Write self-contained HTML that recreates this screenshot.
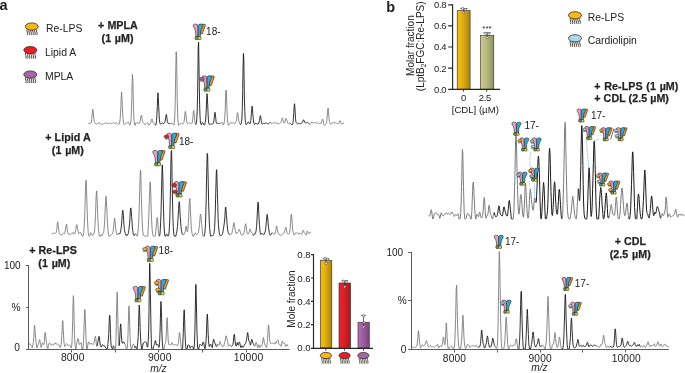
<!DOCTYPE html>
<html><head><meta charset="utf-8"><title>figure</title>
<style>
html,body{margin:0;padding:0;background:#fff;}
body{width:685px;height:373px;overflow:hidden;}
svg{display:block;font-family:"Liberation Sans",sans-serif;fill:#222;will-change:transform;opacity:0.999;}
</style></head><body>
<svg width="685" height="373" viewBox="0 0 685 373">
<rect x="0" y="0" width="685" height="373" fill="#ffffff"/>

<defs>
<linearGradient id="gy" x1="0" x2="1" y1="0" y2="0"><stop offset="0" stop-color="#f3bd12"/><stop offset="0.35" stop-color="#e9b312"/><stop offset="1" stop-color="#a88410"/></linearGradient>
<linearGradient id="gr" x1="0" x2="1" y1="0" y2="0"><stop offset="0" stop-color="#ee232b"/><stop offset="0.4" stop-color="#dd1f27"/><stop offset="1" stop-color="#a51a22"/></linearGradient>
<linearGradient id="gp" x1="0" x2="1" y1="0" y2="0"><stop offset="0" stop-color="#b06fb2"/><stop offset="0.4" stop-color="#a060a3"/><stop offset="1" stop-color="#7a457d"/></linearGradient>
<linearGradient id="gg" x1="0" x2="1" y1="0" y2="0"><stop offset="0" stop-color="#c9cc92"/><stop offset="0.4" stop-color="#b9bd82"/><stop offset="1" stop-color="#8d9160"/></linearGradient>
</defs>
<g stroke="#3a2a18" stroke-width="0.6">
<rect x="320.3" y="260.6" width="11.5" height="87.2" fill="url(#gy)"/>
<rect x="339.0" y="283.0" width="11.6" height="64.8" fill="url(#gr)"/>
<rect x="358.0" y="322.2" width="11.3" height="25.6" fill="url(#gp)"/>
<rect x="457.2" y="10.6" width="12.9" height="78.6" fill="url(#gy)"/>
<rect x="480.4" y="35.4" width="13.4" height="53.8" fill="url(#gg)"/>
</g>
<g stroke="#222" stroke-width="0.7" fill="none">
<path d="M326 258.8 V262.4 M322.6 258.8 H329.4"/>
<path d="M344.8 280.8 V285 M341.4 280.8 H348.2"/>
<path d="M363.6 315.4 V327.6 M361.2 315.4 H366"/>
<path d="M463.9 8.6 V12.8 M460.3 8.6 H467.5"/>
<path d="M487.1 32.8 V38 M483.4 32.8 H490.8"/>
</g>
<g stroke="#333" stroke-width="0.5" fill="#fff">
<circle cx="325" cy="258.3" r="1.1"/><circle cx="327.6" cy="259.1" r="1.1"/><circle cx="326" cy="263.4" r="1.1"/>
<circle cx="343.8" cy="281.1" r="1.1"/><circle cx="346.2" cy="281.8" r="1.1"/><circle cx="344.8" cy="286.8" r="1.1"/>
<circle cx="363.6" cy="315.6" r="1.1"/><circle cx="363.6" cy="326.8" r="1.1"/><circle cx="364" cy="322.5" r="1.0"/>
<circle cx="462.6" cy="8.3" r="1.1"/><circle cx="465.2" cy="9.4" r="1.1"/><circle cx="463.8" cy="12.8" r="1.1"/>
<circle cx="485.8" cy="33.4" r="1.1"/><circle cx="488.4" cy="34.2" r="1.1"/><circle cx="487" cy="37.6" r="1.1"/>
</g>

<g><path d="M88.0 123.1 L88.3 123.3 L88.7 123.3 L89.0 123.4 L89.4 123.7 L89.8 123.7 L90.1 123.3 L90.5 123.1 L90.8 123.3 L91.2 123.0 L91.5 121.3 L91.8 118.3 L92.2 114.4 L92.5 110.7 L92.9 109.2 L93.2 111.7 L93.6 116.1 L94.0 119.5 L94.3 121.3 L94.7 122.1 L95.0 122.7 L95.3 123.3 L95.7 123.8 L96.0 124.0 L96.4 124.0 L96.8 123.9 L97.1 123.8 L97.5 123.7 L97.8 123.4 L98.2 123.1 L98.5 122.9 L98.8 123.0 L99.2 123.0 L99.5 123.0 L99.9 123.0 L100.2 123.4 L100.6 123.9 L101.0 124.2 L101.3 124.3 L101.7 124.3 L102.0 124.2 L102.3 124.2 L102.7 124.2 L103.0 124.2 L103.4 124.0 L103.8 123.7 L104.1 123.4 L104.5 123.3 L104.8 123.3 L105.2 123.3 L105.5 123.3 L105.8 123.0 L106.2 122.5 L106.5 122.6 L106.9 123.2 L107.2 123.7 L107.6 123.8 L108.0 123.8 L108.3 123.6 L108.7 123.4 L109.0 123.2 L109.3 123.2 L109.7 123.3 L110.0 123.5 L110.4 123.6 L110.8 123.5 L111.1 123.4 L111.5 123.6 L111.8 123.8 L112.2 123.6 L112.5 123.3 L112.8 123.1 L113.2 122.6 L113.5 122.4 L113.9 122.8 L114.2 123.3 L114.6 123.5 L115.0 123.5 L115.3 123.4 L115.7 123.3 L116.0 123.1 L116.3 123.0 L116.7 123.0 L117.0 123.3 L117.4 123.6 L117.8 123.9 L118.1 124.1 L118.5 124.3 L118.8 124.4 L119.2 124.1 L119.5 123.2 L119.8 121.5 L120.2 118.7 L120.5 113.7 L120.9 105.8 L121.2 96.7 L121.6 91.9 L121.9 96.5 L122.3 105.5 L122.7 113.3 L123.0 118.5 L123.3 121.5 L123.7 123.4 L124.0 124.3 L124.4 124.7 L124.8 124.6 L125.1 124.3 L125.4 123.8 L125.8 123.2 L126.2 122.8 L126.5 122.7 L126.8 122.7 L127.2 122.9 L127.5 122.8 L127.9 122.4 L128.2 122.0 L128.6 122.4 L128.9 123.3 L129.3 124.3 L129.7 125.0 L130.0 125.1 L130.3 124.5 L130.7 122.8 L131.1 118.8 L131.4 111.1 L131.8 98.7 L132.1 83.8 L132.4 74.5 L132.8 79.9 L133.2 94.2 L133.5 107.6 L133.8 116.7 L134.2 121.7 L134.6 124.3 L134.9 125.3 L135.2 125.2 L135.6 123.8 L135.9 122.6 L136.3 122.6 L136.7 122.8 L137.0 122.7 L137.3 122.6 L137.7 122.7 L138.1 123.0 L138.4 123.4 L138.8 123.7 L139.1 123.8 L139.4 123.3 L139.8 122.3 L140.2 120.8 L140.5 118.9 L140.8 116.8 L141.2 115.3 L141.6 115.2 L141.9 117.3 L142.2 119.9 L142.6 121.5 L142.9 122.4 L143.3 122.9 L143.7 123.4 L144.0 123.8 L144.3 124.0 L144.7 124.0 L145.1 124.1 L145.4 124.2 L145.8 124.3 L146.1 124.3 L146.4 124.0 L146.8 123.4 L147.2 122.8 L147.5 122.5 L147.8 122.8 L148.2 123.5 L148.6 124.4 L148.9 125.2 L149.2 125.2 L149.6 124.6 L149.9 124.1 L150.3 123.7 L150.7 123.0 L151.0 121.9 L151.3 120.5 L151.7 119.2 L152.1 119.0 L152.4 120.3 L152.8 121.9 L153.1 122.6 L153.4 122.9 L153.8 123.1 L154.1 123.2 L154.5 123.5 L154.8 124.1" fill="none" stroke="#7c7c7c" stroke-width="0.9" stroke-linejoin="round"/>
<path d="M154.8 124.1 L155.2 124.8 L155.6 125.2 L155.9 124.9 L156.2 123.4 L156.6 120.3 L156.9 114.7 L157.3 106.4 L157.6 97.3 L158.0 92.8 L158.3 97.6 L158.7 106.7 L159.1 114.7 L159.4 119.9 L159.8 122.5 L160.1 123.7 L160.4 124.2 L160.8 124.2 L161.1 124.0 L161.5 123.5 L161.8 123.1 L162.2 122.9 L162.6 123.0 L162.9 123.2 L163.2 123.5 L163.6 123.7 L163.9 123.5 L164.3 123.1 L164.6 122.5 L165.0 121.6 L165.3 120.0 L165.7 117.6 L166.1 115.1 L166.4 114.5 L166.8 116.7 L167.1 119.5 L167.4 121.7 L167.8 122.9 L168.1 123.4 L168.5 123.4 L168.8 123.3 L169.2 123.5 L169.6 123.7 L169.9 123.8 L170.2 123.9 L170.6 123.6 L170.9 123.3" fill="none" stroke="#1a1a1a" stroke-width="0.9" stroke-linejoin="round"/>
<path d="M170.9 123.3 L171.3 123.2 L171.6 123.2 L172.0 123.2 L172.3 123.5 L172.7 124.0 L173.1 124.3 L173.4 124.9 L173.8 125.1 L174.1 124.3 L174.4 122.0 L174.8 117.0 L175.1 106.8 L175.5 89.4 L175.8 67.5 L176.2 51.7 L176.6 56.8 L176.9 77.1 L177.2 97.8 L177.6 112.0 L177.9 119.8 L178.3 123.6 L178.6 125.3 L179.0 125.3 L179.3 125.0 L179.7 124.3 L180.1 123.7 L180.4 123.4 L180.8 123.3 L181.1 123.4 L181.4 123.5 L181.8 123.7 L182.1 123.8 L182.5 123.8 L182.8 123.8 L183.2 123.7 L183.6 123.3 L183.9 122.5 L184.2 120.8 L184.6 117.8 L184.9 114.2 L185.3 111.4 L185.6 112.1 L186.0 115.4 L186.3 118.8 L186.7 121.3 L187.1 122.8 L187.4 123.5 L187.8 123.8 L188.1 123.6 L188.4 123.2 L188.8 122.8 L189.1 122.6 L189.5 122.7 L189.8 122.9 L190.2 123.2 L190.6 123.6 L190.9 123.9 L191.2 124.0 L191.6 123.8 L191.9 123.3 L192.3 122.2 L192.6 119.9 L193.0 116.2 L193.3 112.2 L193.7 110.4 L194.1 112.7 L194.4 116.9 L194.8 120.8 L195.1 123.2 L195.4 124.2 L195.8 124.5 L196.1 124.1" fill="none" stroke="#7c7c7c" stroke-width="0.9" stroke-linejoin="round"/>
<path d="M195.8 124.5 L196.1 124.1 L196.5 122.3 L196.8 118.2 L197.2 110.0 L197.6 94.3 L197.9 71.0 L198.2 47.9 L198.6 42.2 L198.9 60.3 L199.3 85.2 L199.6 104.7 L200.0 115.6 L200.3 120.8 L200.7 123.3 L201.1 124.6 L201.4 124.7 L201.8 123.8 L202.1 122.8 L202.4 122.5 L202.8 122.6 L203.1 123.1 L203.5 123.9 L203.8 124.7 L204.2 125.1 L204.6 124.8 L204.9 123.9 L205.2 122.4 L205.6 120.1 L205.9 116.0 L206.3 109.1 L206.6 100.2 L207.0 93.7 L207.3 95.9 L207.7 104.6 L208.1 113.6 L208.4 119.9 L208.8 123.2 L209.1 124.3 L209.4 124.5 L209.8 124.5 L210.1 124.4 L210.5 124.1 L210.8 124.0 L211.2 124.0 L211.6 124.0 L211.9 124.1 L212.2 124.2 L212.6 124.1 L212.9 123.8 L213.3 123.2 L213.6 122.1 L214.0 119.9 L214.3 116.7 L214.7 113.4 L215.1 112.3 L215.4 114.8 L215.8 118.7 L216.1 121.8 L216.4 123.2 L216.8 123.5 L217.2 123.5 L217.5 123.5 L217.8 123.7 L218.2 123.8 L218.5 123.5 L218.9 123.0 L219.2 123.0 L219.6 123.4 L219.9 123.6" fill="none" stroke="#1a1a1a" stroke-width="0.9" stroke-linejoin="round"/>
<path d="M219.9 123.6 L220.3 123.5 L220.7 123.5 L221.0 123.3 L221.3 122.9 L221.7 122.3 L222.0 122.3 L222.4 123.3 L222.8 124.4 L223.1 125.0 L223.4 125.1 L223.8 124.4 L224.1 122.9 L224.5 120.5 L224.8 116.6 L225.2 109.8 L225.5 100.0 L225.9 90.9 L226.2 90.0 L226.6 98.3 L226.9 108.5 L227.3 116.2 L227.6 121.0 L228.0 123.7 L228.3 125.1 L228.7 125.3 L229.0 124.8 L229.4 124.2 L229.8 123.5 L230.1 122.7 L230.4 122.8 L230.8 123.1 L231.1 123.0 L231.5 122.9 L231.8 122.9 L232.2 122.9 L232.5 122.8 L232.9 122.8 L233.2 122.8 L233.6 123.0 L233.9 123.3 L234.3 123.5 L234.6 123.7 L235.0 123.6 L235.3 123.2 L235.7 122.4 L236.0 121.8 L236.4 120.8 L236.8 118.4 L237.1 114.9 L237.4 112.6 L237.8 113.1 L238.1 115.8 L238.5 118.6 L238.8 120.6 L239.2 122.1 L239.5 123.3 L239.9 124.1 L240.2 124.6 L240.6 124.5" fill="none" stroke="#7c7c7c" stroke-width="0.9" stroke-linejoin="round"/>
<path d="M240.2 124.6 L240.6 124.5 L240.9 124.0 L241.3 123.3 L241.6 121.4 L242.0 116.9 L242.3 107.2 L242.7 90.4 L243.0 69.0 L243.4 53.4 L243.8 58.1 L244.1 77.9 L244.4 97.9 L244.8 111.3 L245.1 118.7 L245.5 122.5 L245.8 124.2 L246.2 124.6 L246.5 124.5 L246.9 124.0 L247.2 123.5 L247.6 122.8 L247.9 122.1 L248.3 121.7 L248.6 122.0 L249.0 122.7 L249.3 123.5 L249.7 123.9 L250.0 123.8 L250.4 122.9 L250.8 120.5 L251.1 117.6 L251.4 113.3 L251.8 108.2 L252.1 106.2 L252.5 109.1 L252.8 113.8 L253.2 117.6 L253.5 121.0 L253.9 123.2 L254.2 124.2 L254.6 124.6 L254.9 124.4 L255.3 123.8 L255.6 123.2 L256.0 123.1 L256.4 123.4 L256.7 123.7 L257.0 124.0 L257.4 124.1 L257.8 124.1 L258.1 124.3 L258.4 123.9 L258.8 123.0 L259.1 121.9 L259.5 120.3 L259.9 118.0 L260.2 115.8 L260.5 115.7 L260.9 117.8 L261.2 120.5 L261.6 122.4 L261.9 123.5 L262.3 124.0 L262.6 124.0 L263.0 123.7 L263.4 123.5 L263.7 123.6 L264.0 123.8 L264.4 123.8 L264.8 123.6 L265.1 123.3 L265.4 123.2 L265.8 123.2 L266.1 123.2 L266.5 123.2 L266.9 123.2 L267.2 123.4 L267.5 123.6 L267.9 123.8 L268.2 124.0 L268.6 123.9 L268.9 123.5 L269.3 123.0 L269.6 122.5 L270.0 122.2" fill="none" stroke="#1a1a1a" stroke-width="0.9" stroke-linejoin="round"/>
<path d="M269.6 122.5 L270.0 122.2 L270.4 122.0 L270.7 122.3 L271.0 123.0 L271.4 123.7 L271.8 124.0 L272.1 123.9 L272.4 123.5 L272.8 123.1 L273.1 122.9 L273.5 122.9 L273.9 122.7 L274.2 122.3 L274.5 122.2 L274.9 122.6 L275.2 123.1 L275.6 123.4 L275.9 123.4 L276.3 123.2 L276.6 122.9 L277.0 122.6 L277.4 122.8 L277.7 123.4 L278.0 123.9 L278.4 124.1 L278.8 123.9 L279.1 123.7 L279.4 123.4 L279.8 123.3 L280.1 123.2 L280.5 122.9 L280.9 122.4 L281.2 121.7 L281.5 120.7 L281.9 119.2 L282.2 117.9 L282.6 118.0 L282.9 119.7 L283.3 121.5 L283.6 122.7 L284.0 123.2 L284.4 123.1 L284.7 122.6 L285.0 121.5 L285.4 119.9 L285.8 118.5 L286.1 118.4 L286.4 119.3 L286.8 120.2 L287.1 121.4 L287.5 122.7 L287.9 123.5 L288.2 123.8 L288.5 123.8 L288.9 123.7 L289.2 123.4 L289.6 122.8 L289.9 122.7 L290.3 123.1 L290.6 123.5 L291.0 123.9" fill="none" stroke="#7c7c7c" stroke-width="0.9" stroke-linejoin="round"/>
<path d="M290.6 123.5 L291.0 123.9 L291.4 124.3 L291.7 124.8 L292.0 125.0 L292.4 124.6 L292.8 123.6 L293.1 121.7 L293.4 118.2 L293.8 112.7 L294.1 106.6 L294.5 103.7 L294.9 107.0 L295.2 113.1 L295.5 118.4 L295.9 121.5 L296.2 122.8 L296.6 123.3 L296.9 123.6 L297.3 123.9 L297.6 123.9 L298.0 123.5 L298.4 123.2 L298.7 123.4 L299.0 123.6 L299.4 123.5 L299.8 123.2 L300.1 123.6 L300.4 123.8 L300.8 123.7 L301.1 123.5 L301.5 123.2 L301.9 123.0 L302.2 122.7 L302.5 122.2 L302.9 121.1 L303.2 120.1 L303.6 119.8 L303.9 120.3 L304.3 121.0 L304.6 121.9 L305.0 122.6 L305.4 123.0 L305.7 123.1 L306.0 123.1 L306.4 122.9 L306.8 122.5 L307.1 122.2 L307.4 122.4 L307.8 122.7 L308.1 122.8 L308.5 122.9 L308.9 123.4" fill="none" stroke="#1a1a1a" stroke-width="0.9" stroke-linejoin="round"/>
<path d="M308.9 123.4 L309.2 124.0 L309.5 124.7 L309.9 124.7 L310.2 124.3 L310.6 123.7 L310.9 123.2 L311.3 122.8 L311.6 122.3 L312.0 122.2 L312.4 122.6 L312.7 122.8 L313.0 122.9 L313.4 123.1 L313.8 123.2 L314.1 122.9 L314.4 122.2 L314.8 122.5 L315.1 122.7 L315.5 122.5 L315.9 122.4 L316.2 122.6 L316.5 122.9 L316.9 123.2 L317.2 123.3 L317.6 123.2 L317.9 123.2 L318.3 123.0 L318.6 122.9 L319.0 123.2 L319.4 123.5 L319.7 123.6 L320.0 123.5 L320.4 123.3 L320.8 123.5 L321.1 123.6 L321.4 123.0 L321.8 121.8 L322.1 120.2 L322.5 119.0 L322.9 119.3 L323.2 120.8 L323.5 122.6 L323.9 124.3 L324.2 125.3 L324.6 125.3 L324.9 125.0 L325.3 124.6 L325.6 124.4 L326.0 124.0 L326.4 123.3 L326.7 121.6 L327.0 118.5 L327.4 113.9 L327.8 109.3 L328.1 108.1 L328.4 111.1 L328.8 115.5 L329.1 119.1 L329.5 121.5 L329.9 122.8 L330.2 123.7 L330.5 124.3 L330.9 124.4 L331.2 124.2 L331.6 123.8 L331.9 123.2 L332.3 122.8 L332.6 122.6 L333.0 122.5 L333.4 122.2 L333.7 122.0 L334.0 122.6 L334.4 122.9 L334.8 122.8 L335.1 122.7 L335.4 122.8 L335.8 123.1 L336.1 123.3 L336.5 123.4 L336.9 123.4 L337.2 123.5 L337.5 123.6 L337.9 123.7 L338.2 123.7 L338.6 123.6 L338.9 123.1 L339.3 122.1 L339.6 121.0 L340.0 120.6 L340.4 121.2 L340.7 122.4 L341.0 123.4 L341.4 123.9 L341.8 124.0 L342.1 124.0 L342.4 124.0 L342.8 123.9 L343.1 123.5 L343.5 122.7 L343.9 122.6" fill="none" stroke="#7c7c7c" stroke-width="0.9" stroke-linejoin="round"/></g>
<g><path d="M51.5 233.1 L51.9 233.5 L52.2 233.7 L52.5 233.7 L52.9 233.4 L53.2 233.1 L53.6 232.9 L54.0 233.0 L54.3 233.3 L54.6 233.4 L55.0 233.3 L55.4 233.2 L55.7 233.0 L56.0 232.7 L56.4 231.7 L56.8 229.6 L57.1 226.0 L57.5 222.2 L57.8 221.8 L58.1 224.5 L58.5 227.7 L58.9 230.5 L59.2 232.6 L59.5 233.8 L59.9 234.3 L60.2 234.4 L60.6 234.5 L61.0 234.4 L61.3 234.6 L61.6 235.1 L62.0 235.2 L62.4 234.5 L62.7 233.9 L63.0 233.6 L63.4 233.3 L63.8 233.3 L64.1 233.7 L64.5 233.8 L64.8 232.8 L65.2 230.9 L65.5 229.2 L65.8 227.2 L66.2 225.0 L66.5 224.2 L66.9 225.9 L67.2 229.2 L67.6 232.2 L68.0 233.5 L68.3 234.1 L68.7 234.5 L69.0 234.4 L69.3 234.2 L69.7 234.0 L70.0 234.2 L70.4 234.4 L70.8 234.3 L71.1 234.1 L71.5 233.8 L71.8 233.4 L72.2 233.1 L72.5 232.9 L72.8 232.7 L73.2 232.4 L73.5 233.1 L73.9 234.1 L74.2 234.3 L74.6 233.7 L75.0 233.0 L75.3 232.0 L75.7 230.4 L76.0 228.3 L76.3 225.9 L76.7 224.6 L77.0 225.3 L77.4 227.3 L77.8 229.5 L78.1 231.6 L78.5 233.1 L78.8 233.6 L79.2 233.3 L79.5 232.9 L79.8 232.8 L80.2 232.8 L80.5 232.6 L80.9 232.7 L81.2 233.9 L81.6 235.1 L82.0 235.9 L82.3 236.2 L82.7 236.2 L83.0 236.2 L83.3 234.8 L83.7 232.4 L84.0 228.7 L84.4 222.9 L84.8 214.2 L85.1 202.7 L85.4 190.3 L85.8 181.3 L86.2 180.3 L86.5 187.6 L86.8 198.7 L87.2 210.0 L87.5 220.0 L87.9 227.6 L88.2 232.4 L88.6 234.8 L88.9 235.9 L89.3 236.2 L89.7 236.2 L90.0 235.5 L90.3 233.6 L90.7 232.6 L91.0 233.2 L91.4 233.5 L91.8 234.0 L92.1 234.8 L92.4 235.5 L92.8 235.2 L93.2 234.3 L93.5 234.4 L93.8 233.9 L94.2 232.7 L94.5 230.7 L94.9 227.1 L95.2 221.0 L95.6 212.4 L95.9 202.2 L96.3 193.5 L96.7 190.9 L97.0 196.0 L97.3 204.8 L97.7 213.7 L98.0 221.7 L98.4 227.7 L98.8 231.8 L99.1 234.6 L99.4 236.2 L99.8 236.2 L100.2 236.2 L100.5 236.1 L100.8 235.0 L101.2 234.6 L101.5 234.9 L101.9 235.6 L102.2 235.7 L102.6 234.7 L102.9 233.5 L103.3 232.9 L103.7 231.9 L104.0 229.7 L104.3 226.1 L104.7 220.6 L105.0 213.3 L105.4 205.0 L105.8 198.1 L106.1 196.3 L106.4 201.0 L106.8 209.0 L107.2 217.2 L107.5 223.7 L107.8 228.4 L108.2 231.9 L108.5 234.6 L108.9 236.2 L109.2 236.2 L109.6 236.2 L109.9 236.2 L110.3 235.8 L110.7 235.1 L111.0 234.7 L111.3 234.6 L111.7 234.5 L112.0 234.4 L112.4 233.9 L112.8 233.1 L113.1 231.6 L113.4 229.1 L113.8 225.4 L114.2 221.1 L114.5 218.1 L114.8 219.0 L115.2 222.8 L115.5 227.1 L115.9 230.3 L116.2 232.2 L116.6 233.6 L117.0 234.7 L117.3 235.0 L117.6 234.2 L118.0 233.8 L118.3 233.7" fill="none" stroke="#7c7c7c" stroke-width="0.9" stroke-linejoin="round"/>
<path d="M118.3 233.7 L118.7 234.0 L119.0 234.1 L119.4 233.3 L119.8 232.9 L120.1 233.4 L120.4 232.6 L120.8 230.5 L121.1 228.1 L121.5 225.1 L121.8 220.8 L122.2 215.4 L122.5 210.8 L122.9 210.1 L123.2 213.8 L123.6 219.3 L123.9 224.5 L124.3 228.4 L124.6 230.8 L125.0 232.3 L125.3 233.4 L125.7 234.5 L126.0 235.4 L126.4 236.0 L126.8 235.5 L127.1 234.3 L127.4 234.5 L127.8 234.6 L128.1 233.9 L128.5 232.7 L128.8 230.4 L129.2 226.9 L129.6 223.3 L129.9 218.6 L130.2 212.9 L130.6 208.4 L130.9 207.9 L131.3 211.4 L131.6 216.5 L132.0 221.9 L132.3 226.8 L132.7 230.5 L133.1 232.9 L133.4 234.5 L133.8 235.3 L134.1 235.7 L134.4 235.5 L134.8 234.6 L135.1 233.9" fill="none" stroke="#1a1a1a" stroke-width="0.9" stroke-linejoin="round"/>
<path d="M134.8 234.6 L135.1 233.9 L135.5 233.5 L135.8 233.4 L136.2 234.4 L136.6 235.8 L136.9 236.2 L137.2 236.0 L137.6 234.5 L137.9 232.1 L138.3 228.8 L138.6 223.6 L139.0 215.7 L139.3 204.3 L139.7 190.7 L140.1 177.6 L140.4 170.0 L140.8 172.9 L141.1 184.3 L141.4 198.4 L141.8 211.1 L142.1 220.8 L142.5 227.4 L142.8 231.6 L143.2 234.1 L143.6 235.4 L143.9 236.0 L144.2 236.1 L144.6 235.9 L144.9 235.9 L145.3 236.1 L145.6 236.2 L146.0 235.9 L146.3 235.8 L146.7 236.1 L147.1 236.2 L147.4 236.1 L147.8 234.5 L148.1 230.7 L148.4 224.6 L148.8 216.6 L149.1 206.6 L149.5 195.5 L149.8 185.7 L150.2 181.9 L150.6 187.0 L150.9 197.7 L151.2 209.2 L151.6 218.9 L151.9 226.0 L152.3 230.7 L152.6 233.7 L153.0 235.6 L153.3 236.2 L153.7 236.2 L154.1 236.2 L154.4 236.2 L154.8 236.2 L155.1 235.7 L155.4 234.2 L155.8 231.6 L156.1 228.0 L156.5 223.6 L156.8 219.5 L157.2 217.5 L157.6 219.8 L157.9 224.7 L158.2 229.6 L158.6 232.9 L158.9 235.2 L159.3 236.2 L159.6 235.9" fill="none" stroke="#7c7c7c" stroke-width="0.9" stroke-linejoin="round"/>
<path d="M159.3 236.2 L159.6 235.9 L160.0 233.6 L160.3 228.9 L160.7 221.2 L161.1 210.2 L161.4 195.8 L161.8 179.6 L162.1 166.6 L162.4 164.9 L162.8 176.0 L163.1 192.8 L163.5 208.6 L163.8 220.4 L164.2 228.2 L164.6 233.2 L164.9 236.1 L165.2 236.2 L165.6 236.2 L165.9 235.8 L166.3 234.8 L166.6 234.1 L167.0 234.3 L167.3 235.1 L167.7 235.8 L168.1 236.2 L168.4 235.9 L168.8 234.6 L169.1 231.8 L169.4 227.1 L169.8 219.0 L170.1 205.9 L170.5 187.7 L170.8 167.1 L171.2 151.4 L171.6 150.4 L171.9 165.0 L172.2 185.4 L172.6 204.0 L172.9 217.7 L173.3 226.6 L173.6 231.8 L174.0 234.8 L174.3 236.2 L174.7 236.2 L175.1 236.2 L175.4 236.2 L175.8 236.1 L176.1 235.0 L176.4 233.6 L176.8 231.8 L177.1 229.6 L177.5 226.4 L177.8 221.8 L178.2 215.9 L178.6 209.3 L178.9 203.7 L179.2 201.7 L179.6 204.8 L179.9 211.0 L180.3 217.6 L180.7 222.9 L181.0 226.7 L181.3 229.4 L181.7 231.6 L182.0 233.3 L182.4 234.4 L182.8 234.7 L183.1 234.5 L183.4 234.4" fill="none" stroke="#1a1a1a" stroke-width="0.9" stroke-linejoin="round"/>
<path d="M183.4 234.4 L183.8 234.5 L184.2 234.3 L184.5 233.7 L184.8 232.8 L185.2 231.7 L185.5 229.9 L185.9 227.3 L186.2 226.1 L186.6 228.3 L186.9 230.9 L187.3 231.8 L187.6 230.7 L188.0 227.9 L188.3 223.3 L188.7 216.8 L189.0 208.7 L189.4 201.2 L189.8 198.4 L190.1 202.3 L190.4 210.1 L190.8 218.3 L191.1 225.1 L191.5 229.6 L191.8 232.1 L192.2 233.8 L192.5 235.2 L192.9 236.2 L193.2 236.2 L193.6 236.2 L193.9 235.4 L194.3 234.4 L194.6 233.4 L195.0 232.7 L195.3 232.9 L195.7 233.8 L196.0 234.3 L196.4 234.6 L196.8 234.7 L197.1 234.5 L197.4 233.9 L197.8 233.6 L198.1 233.3 L198.5 232.2 L198.8 230.3 L199.2 227.7 L199.5 224.4 L199.9 220.1 L200.2 215.8 L200.6 214.0 L200.9 215.8 L201.3 219.7 L201.6 223.6 L202.0 227.3 L202.3 230.9 L202.7 234.3 L203.0 236.2 L203.4 236.2 L203.8 236.2 L204.1 236.2" fill="none" stroke="#7c7c7c" stroke-width="0.9" stroke-linejoin="round"/>
<path d="M203.8 236.2 L204.1 236.2 L204.4 235.8 L204.8 233.4 L205.1 229.7 L205.5 223.8 L205.8 214.0 L206.2 199.2 L206.5 181.0 L206.9 164.3 L207.2 153.3 L207.6 154.6 L207.9 167.8 L208.3 185.4 L208.6 201.6 L209.0 214.1 L209.3 222.8 L209.7 228.2 L210.0 232.0 L210.4 234.9 L210.8 236.2 L211.1 236.2 L211.4 235.7 L211.8 235.6 L212.1 235.6 L212.5 235.6 L212.8 235.6 L213.2 235.4 L213.5 234.8 L213.9 233.5 L214.2 231.4 L214.6 227.6 L214.9 221.3 L215.3 211.4 L215.6 198.3 L216.0 183.6 L216.3 171.9 L216.7 169.7 L217.0 178.6 L217.4 192.7 L217.8 206.4 L218.1 217.3 L218.4 224.7 L218.8 229.1 L219.1 231.9 L219.5 233.9 L219.8 235.4 L220.2 235.8 L220.5 235.6 L220.9 235.4 L221.2 235.4 L221.6 235.3 L221.9 235.1 L222.3 234.5 L222.6 233.4 L223.0 231.8 L223.3 229.5 L223.7 227.3 L224.0 225.2 L224.4 222.3 L224.8 218.1 L225.1 212.8 L225.4 207.7 L225.8 207.0 L226.1 210.6 L226.5 215.6 L226.8 220.8 L227.2 225.4 L227.5 228.9 L227.9 231.2 L228.2 232.4 L228.6 233.4 L228.9 234.1 L229.3 234.5 L229.6 234.6 L230.0 234.4" fill="none" stroke="#1a1a1a" stroke-width="0.9" stroke-linejoin="round"/>
<path d="M230.0 234.4 L230.3 234.1 L230.7 234.1 L231.0 234.3 L231.4 234.4 L231.8 233.8 L232.1 232.3 L232.4 230.7 L232.8 229.2 L233.1 227.0 L233.5 224.2 L233.8 222.7 L234.2 223.7 L234.5 226.1 L234.9 228.2 L235.2 230.0 L235.6 231.8 L235.9 233.3 L236.3 233.9 L236.6 233.3 L237.0 232.6 L237.3 232.6 L237.7 232.7 L238.0 232.3 L238.4 231.4 L238.8 230.2 L239.1 229.3 L239.4 229.4 L239.8 230.3 L240.1 231.5 L240.5 232.7 L240.8 233.8 L241.2 234.6 L241.5 235.1 L241.9 235.2 L242.2 235.0 L242.6 234.8 L242.9 234.7 L243.3 234.6 L243.6 234.0 L244.0 232.6 L244.3 230.8 L244.7 228.7 L245.0 226.4 L245.4 224.2 L245.8 223.7 L246.1 225.9 L246.4 229.1 L246.8 231.6 L247.1 233.1 L247.5 233.8 L247.8 234.3 L248.2 234.2 L248.5 233.5 L248.9 232.9 L249.2 231.9 L249.6 230.3 L249.9 229.1 L250.3 229.3 L250.6 230.5 L251.0 231.6 L251.3 232.3 L251.7 232.6 L252.0 232.8 L252.4 233.5 L252.8 234.6 L253.1 235.5 L253.4 235.7 L253.8 235.2 L254.1 234.3" fill="none" stroke="#7c7c7c" stroke-width="0.9" stroke-linejoin="round"/>
<path d="M253.8 235.2 L254.1 234.3 L254.5 233.5 L254.8 233.3 L255.2 233.5 L255.5 233.3 L255.9 232.0 L256.2 229.9 L256.6 226.5 L256.9 221.0 L257.3 213.6 L257.6 206.3 L258.0 202.1 L258.4 203.8 L258.7 210.2 L259.0 217.7 L259.4 224.4 L259.8 229.2 L260.1 232.3 L260.4 233.9 L260.8 234.5 L261.1 234.2 L261.5 233.6 L261.9 233.2 L262.2 233.3 L262.5 233.7 L262.9 234.1 L263.2 234.6 L263.6 235.0 L263.9 234.6 L264.3 233.8 L264.6 233.0 L265.0 232.1 L265.4 230.8 L265.7 228.7 L266.0 225.5 L266.4 221.3 L266.8 217.0 L267.1 214.4 L267.4 215.2 L267.8 219.0 L268.1 223.7 L268.5 227.4 L268.9 230.1 L269.2 232.1 L269.5 233.6 L269.9 234.7 L270.2 235.2 L270.6 235.1 L270.9 234.5 L271.3 233.8 L271.6 233.1 L272.0 232.8" fill="none" stroke="#1a1a1a" stroke-width="0.9" stroke-linejoin="round"/>
<path d="M271.6 233.1 L272.0 232.8 L272.4 232.6 L272.7 232.7 L273.0 233.2 L273.4 233.9 L273.8 234.3 L274.1 234.5 L274.4 234.4 L274.8 234.0 L275.1 233.1 L275.5 231.7 L275.9 229.6 L276.2 227.3 L276.5 225.9 L276.9 226.4 L277.2 228.6 L277.6 230.9 L277.9 232.7 L278.3 233.8 L278.6 234.0 L279.0 234.1 L279.4 234.4 L279.7 234.9 L280.0 235.2 L280.4 235.5 L280.8 235.7 L281.1 235.6 L281.4 235.2 L281.8 234.6 L282.1 234.2 L282.5 233.9 L282.9 233.6 L283.2 233.4 L283.5 233.4 L283.9 233.3 L284.2 233.0 L284.6 231.9 L284.9 230.2 L285.3 228.4 L285.6 227.4 L286.0 227.2 L286.4 228.7 L286.7 231.2 L287.0 232.7 L287.4 233.5 L287.8 233.9 L288.1 233.9 L288.4 234.0 L288.8 233.9 L289.1 233.5 L289.5 232.6 L289.9 231.1 L290.2 228.1 L290.5 223.4 L290.9 218.0 L291.2 214.2 L291.6 214.6 L291.9 218.9 L292.3 224.2 L292.6 229.0 L293.0 231.9 L293.4 233.1 L293.7 234.0 L294.0 234.7 L294.4 235.1 L294.8 234.8 L295.1 234.0 L295.4 233.2 L295.8 232.9 L296.1 232.9 L296.5 232.9 L296.9 232.8 L297.2 232.9 L297.5 233.1 L297.9 233.5 L298.2 233.8 L298.6 234.0 L298.9 234.1 L299.3 233.9 L299.6 233.1 L300.0 232.8 L300.4 233.4 L300.7 233.8 L301.0 234.2 L301.4 234.4 L301.8 234.2 L302.1 233.4 L302.4 232.1 L302.8 230.7 L303.1 230.1 L303.5 230.6 L303.9 231.6 L304.2 232.6 L304.5 233.3 L304.9 233.7 L305.2 233.7 L305.6 234.0 L305.9 234.8 L306.3 234.9 L306.6 234.0 L307.0 232.2 L307.4 231.0 L307.7 231.7 L308.1 232.8 L308.4 233.5 L308.8 233.8 L309.1 233.5 L309.4 232.9 L309.8 232.2 L310.1 232.0 L310.5 232.2 L310.8 232.7" fill="none" stroke="#7c7c7c" stroke-width="0.9" stroke-linejoin="round"/></g>
<g><path d="M28.6 342.5 L29.0 342.8 L29.3 343.8 L29.7 344.5 L30.0 344.5 L30.4 344.3 L30.7 344.9 L31.1 345.4 L31.4 345.9 L31.8 346.6 L32.1 347.8 L32.5 347.5 L32.8 345.2 L33.1 343.4 L33.5 341.2 L33.9 336.4 L34.2 329.2 L34.5 325.3 L34.9 327.9 L35.2 332.8 L35.6 337.5 L36.0 341.4 L36.3 344.7 L36.6 347.0 L37.0 347.8 L37.4 347.1 L37.7 345.8 L38.0 344.6 L38.4 343.7 L38.8 342.9 L39.1 341.6 L39.5 339.8 L39.8 339.6 L40.1 342.0 L40.5 344.5 L40.9 346.6 L41.2 347.6 L41.5 346.4 L41.9 344.4 L42.2 343.2 L42.6 343.0 L43.0 343.6 L43.3 344.5 L43.6 344.9 L44.0 343.6 L44.4 340.2 L44.7 335.8 L45.0 332.5 L45.4 332.8 L45.8 336.2 L46.1 339.9 L46.5 342.6 L46.8 344.3 L47.1 346.0 L47.5 348.1 L47.9 348.6 L48.2 346.9 L48.5 345.3 L48.9 344.0 L49.2 343.2 L49.6 342.8 L50.0 343.1 L50.3 343.8 L50.6 344.6 L51.0 345.1 L51.4 345.1 L51.7 344.9 L52.0 344.5 L52.4 344.2 L52.8 344.3 L53.1 344.6 L53.5 344.7 L53.8 344.6 L54.1 344.5 L54.5 344.1 L54.9 343.1 L55.2 342.8 L55.5 343.7 L55.9 344.2 L56.2 344.1 L56.6 343.8 L57.0 343.6 L57.3 343.8 L57.6 344.2 L58.0 344.7 L58.3 344.9 L58.7 345.0 L59.0 345.1 L59.4 345.8 L59.8 346.8 L60.1 347.7 L60.5 347.6 L60.8 346.5 L61.1 344.4 L61.5 340.9 L61.9 335.1 L62.2 327.4 L62.5 320.6 L62.9 320.8 L63.2 328.0 L63.6 335.7 L63.9 341.2 L64.3 344.6 L64.7 346.5 L65.0 346.6 L65.3 345.6 L65.7 344.8 L66.0 344.3 L66.4 343.8 L66.8 343.7 L67.1 344.0 L67.4 344.7 L67.8 345.5 L68.2 345.9 L68.5 345.7 L68.8 345.3 L69.2 345.0 L69.5 344.9 L69.9 345.1 L70.2 345.5 L70.6 346.5 L70.9 347.7 L71.3 347.6 L71.7 345.9 L72.0 341.9 L72.3 333.9 L72.7 320.3 L73.0 303.9 L73.4 295.7 L73.8 304.3 L74.1 319.7 L74.4 332.7 L74.8 341.3 L75.2 346.7 L75.5 349.0 L75.8 349.0 L76.2 348.0 L76.5 345.3 L76.9 343.1 L77.2 341.3 L77.6 339.5 L77.9 338.5 L78.3 339.1 L78.7 341.2 L79.0 343.2 L79.3 344.4 L79.7 344.6 L80.0 344.1 L80.4 343.3 L80.8 342.6 L81.1 342.8 L81.4 344.3 L81.8 347.1 L82.2 349.0 L82.5 349.0 L82.8 349.0 L83.2 346.2 L83.5 340.7 L83.9 332.9 L84.2 321.9 L84.6 311.0 L84.9 309.4 L85.3 318.6 L85.7 330.0 L86.0 338.8 L86.3 344.8 L86.7 348.8 L87.0 349.0 L87.4 348.0 L87.8 345.1 L88.1 343.0 L88.4 342.1 L88.8 341.9 L89.2 342.3 L89.5 343.3 L89.8 344.2 L90.2 344.2 L90.5 343.7 L90.9 343.2 L91.2 343.1 L91.6 343.6 L91.9 344.1 L92.3 344.3 L92.7 344.4 L93.0 344.7 L93.3 344.4 L93.7 343.7 L94.1 342.7 L94.4 341.2 L94.8 339.1 L95.1 336.9 L95.4 336.3 L95.8 338.4 L96.2 342.1 L96.5 345.3 L96.8 346.4" fill="none" stroke="#7c7c7c" stroke-width="0.9" stroke-linejoin="round"/>
<path d="M96.8 346.4 L97.2 345.7 L97.5 344.3 L97.9 342.3 L98.2 340.0 L98.6 337.8 L98.9 336.3 L99.3 337.2 L99.7 340.0 L100.0 343.1 L100.3 345.3 L100.7 346.5 L101.0 347.0 L101.4 346.9 L101.8 346.1 L102.1 345.2 L102.4 344.7 L102.8 344.7 L103.2 345.1 L103.5 345.6 L103.8 346.1 L104.2 346.0 L104.5 345.8 L104.9 346.0 L105.2 346.8 L105.6 347.8 L105.9 348.3 L106.3 348.4 L106.7 348.7 L107.0 349.0 L107.3 348.8 L107.7 347.0 L108.0 343.6 L108.4 339.2 L108.8 333.4 L109.1 325.3 L109.4 316.9 L109.8 315.3 L110.2 323.2 L110.5 333.5 L110.8 341.2 L111.2 345.5 L111.5 347.5 L111.9 348.2 L112.2 348.4 L112.6 348.8 L112.9 347.5 L113.3 345.7 L113.7 346.2 L114.0 348.4" fill="none" stroke="#1a1a1a" stroke-width="0.9" stroke-linejoin="round"/>
<path d="M113.7 346.2 L114.0 348.4 L114.3 349.0 L114.7 349.0 L115.0 349.0 L115.4 348.9 L115.8 344.9 L116.1 334.7 L116.4 319.3 L116.8 302.2 L117.2 292.1 L117.5 299.6 L117.8 316.9 L118.2 332.2 L118.5 341.3 L118.9 345.2 L119.2 345.6 L119.6 342.1" fill="none" stroke="#7c7c7c" stroke-width="0.9" stroke-linejoin="round"/>
<path d="M119.2 345.6 L119.6 342.1 L119.9 334.9 L120.3 327.2 L120.7 323.9 L121.0 327.5 L121.3 333.9 L121.7 339.3 L122.0 342.2 L122.4 343.3 L122.8 343.2 L123.1 342.4 L123.4 341.8 L123.8 342.0 L124.2 342.6 L124.5 343.5 L124.8 344.1" fill="none" stroke="#1a1a1a" stroke-width="0.9" stroke-linejoin="round"/>
<path d="M124.8 344.1 L125.2 344.5 L125.5 345.5 L125.9 347.0 L126.2 348.6 L126.6 349.0 L126.9 349.0 L127.3 347.1 L127.7 342.8 L128.0 335.2 L128.3 323.5 L128.7 310.8 L129.0 306.0 L129.4 315.1 L129.8 327.7 L130.1 337.1 L130.4 343.5 L130.8 347.3 L131.2 349.0 L131.5 349.0 L131.8 349.0 L132.2 347.3 L132.5 345.6 L132.9 344.8 L133.2 344.2 L133.6 344.0 L133.9 344.6 L134.3 346.2 L134.7 347.6 L135.0 347.5" fill="none" stroke="#7c7c7c" stroke-width="0.9" stroke-linejoin="round"/>
<path d="M134.7 347.6 L135.0 347.5 L135.3 346.7 L135.7 346.4 L136.0 347.2 L136.4 348.6 L136.8 349.0 L137.1 348.6 L137.4 345.9 L137.8 342.1 L138.2 336.7 L138.5 327.5 L138.8 314.8 L139.2 305.0 L139.5 307.6 L139.9 319.0 L140.2 330.2 L140.6 338.0 L140.9 343.2 L141.3 346.8 L141.7 349.0 L142.0 349.0 L142.3 347.9 L142.7 345.8 L143.0 344.0 L143.4 342.9 L143.8 342.6 L144.1 342.5 L144.4 342.3 L144.8 342.0 L145.2 341.8 L145.5 341.8 L145.8 342.0 L146.2 342.5 L146.5 343.3 L146.9 344.9 L147.2 346.7 L147.6 347.2 L147.9 345.3 L148.3 340.3 L148.7 329.9 L149.0 310.5 L149.3 283.5 L149.7 263.3 L150.0 269.3 L150.4 293.5 L150.8 317.3 L151.1 334.0 L151.4 344.2 L151.8 349.0 L152.2 349.0 L152.5 349.0 L152.8 349.0 L153.2 348.7 L153.5 346.8 L153.9 345.6 L154.2 344.7 L154.6 343.7 L154.9 342.2 L155.3 340.6 L155.7 340.8 L156.0 343.0 L156.3 344.9 L156.7 345.2 L157.0 344.8 L157.4 344.4 L157.8 344.3 L158.1 345.1 L158.4 346.4 L158.8 347.5 L159.1 347.1 L159.5 344.2 L159.8 337.9 L160.2 327.4 L160.5 312.9 L160.9 301.5 L161.2 304.7 L161.6 318.5 L161.9 332.1 L162.3 341.2 L162.6 346.5 L163.0 349.0 L163.3 349.0 L163.7 349.0 L164.0 349.0" fill="none" stroke="#1a1a1a" stroke-width="0.9" stroke-linejoin="round"/>
<path d="M163.7 349.0 L164.0 349.0 L164.4 346.9 L164.7 344.4 L165.1 343.6 L165.4 343.3 L165.8 341.6 L166.1 337.2 L166.5 329.8 L166.8 321.1 L167.2 317.7 L167.5 324.5 L167.9 333.7 L168.2 340.0 L168.6 343.5 L168.9 344.7 L169.3 344.6 L169.6 344.3 L170.0 344.6 L170.3 345.1 L170.7 345.2 L171.0 344.6 L171.4 343.7 L171.7 342.9 L172.1 342.5 L172.4 343.0 L172.8 344.1 L173.1 344.9 L173.5 345.3 L173.8 345.3 L174.2 345.1 L174.5 344.9 L174.9 344.8 L175.2 344.7 L175.6 344.5 L175.9 344.5 L176.3 344.6 L176.6 345.1 L177.0 345.6 L177.3 345.8 L177.7 345.5 L178.0 344.5 L178.4 342.6 L178.7 339.5 L179.1 335.6 L179.4 332.6 L179.8 333.2 L180.1 336.7 L180.5 340.0 L180.8 343.4 L181.2 347.8 L181.5 349.0 L181.9 349.0" fill="none" stroke="#7c7c7c" stroke-width="0.9" stroke-linejoin="round"/>
<path d="M181.9 349.0 L182.2 349.0 L182.6 347.9 L182.9 341.9 L183.3 332.8 L183.6 320.8 L184.0 310.0 L184.3 309.9 L184.7 321.0 L185.0 333.4 L185.4 341.8 L185.7 346.3 L186.1 348.8 L186.4 349.0 L186.8 349.0 L187.1 348.9 L187.5 347.0 L187.8 345.2 L188.2 344.9 L188.5 345.0 L188.9 345.0 L189.2 345.2 L189.6 346.0 L189.9 347.9 L190.3 348.2 L190.6 347.2 L191.0 346.7 L191.3 346.5 L191.7 346.4 L192.0 346.3 L192.4 346.4 L192.7 346.8 L193.1 347.8 L193.4 349.0 L193.8 349.0 L194.1 347.8 L194.5 342.9 L194.8 332.9 L195.2 316.0 L195.5 295.7 L195.9 284.4 L196.2 293.6 L196.6 312.8 L196.9 329.8 L197.3 340.8 L197.6 346.9 L198.0 349.0 L198.3 349.0 L198.7 349.0 L199.0 347.7 L199.4 345.5 L199.7 344.5 L200.1 344.3 L200.4 344.5 L200.8 344.7 L201.1 345.1 L201.5 345.7 L201.8 345.9 L202.2 345.3 L202.5 344.0 L202.9 342.6 L203.2 341.9 L203.6 342.3 L203.9 343.9 L204.3 346.2 L204.6 348.1 L205.0 348.7 L205.3 347.7 L205.7 345.2 L206.0 341.3 L206.4 334.9 L206.7 325.3 L207.1 315.5 L207.4 314.1 L207.8 322.6 L208.1 332.6 L208.5 339.8 L208.8 344.1 L209.2 346.3 L209.5 346.7 L209.9 345.8 L210.2 344.5 L210.6 344.0 L210.9 344.5 L211.3 345.5 L211.6 346.6 L212.0 347.6 L212.3 347.5 L212.7 345.1 L213.0 342.0 L213.4 339.9 L213.7 339.3 L214.1 340.3 L214.4 341.6 L214.8 342.5 L215.1 343.4 L215.5 344.6 L215.8 345.8 L216.2 346.5 L216.5 346.3 L216.9 345.5 L217.2 344.6 L217.6 344.2 L217.9 344.4" fill="none" stroke="#1a1a1a" stroke-width="0.9" stroke-linejoin="round"/>
<path d="M217.9 344.4 L218.3 344.8 L218.6 345.2 L219.0 345.4 L219.3 344.9 L219.7 343.2 L220.0 341.4 L220.4 342.3 L220.7 343.8 L221.1 344.5 L221.4 345.0 L221.8 345.6 L222.1 346.4 L222.5 346.6 L222.8 346.4 L223.2 346.4 L223.5 346.2 L223.9 345.5 L224.2 344.2 L224.6 342.7 L224.9 341.4 L225.3 340.0 L225.6 338.1 L226.0 336.1 L226.3 335.9 L226.7 337.9 L227.0 339.3 L227.4 339.9 L227.7 341.6 L228.1 344.2 L228.4 345.9 L228.8 346.2 L229.1 345.8 L229.5 345.1 L229.8 344.8 L230.2 344.9 L230.5 345.4 L230.9 345.9" fill="none" stroke="#7c7c7c" stroke-width="0.9" stroke-linejoin="round"/>
<path d="M230.9 345.9 L231.2 346.2 L231.6 346.3 L231.9 346.2 L232.3 345.9 L232.6 345.4 L233.0 344.3 L233.3 341.8 L233.7 338.0 L234.0 334.5 L234.4 334.3 L234.7 337.3 L235.1 341.2 L235.4 344.0 L235.8 345.5 L236.1 346.2 L236.5 346.0 L236.8 344.3 L237.2 342.5 L237.5 343.3 L237.9 344.9 L238.2 345.2 L238.6 344.4 L238.9 343.1 L239.3 342.0 L239.6 342.2 L240.0 343.7 L240.3 345.7 L240.7 347.2 L241.0 347.6 L241.4 346.6 L241.7 345.7 L242.1 346.0 L242.4 347.1 L242.8 347.2 L243.1 347.1 L243.5 346.9 L243.8 346.4 L244.2 345.4 L244.5 344.5 L244.9 344.0 L245.2 344.0 L245.6 343.7 L245.9 342.5 L246.3 340.7 L246.6 339.0 L247.0 336.9 L247.3 334.0 L247.7 332.5 L248.0 334.2 L248.4 337.4 L248.7 340.2 L249.1 341.4 L249.4 341.5 L249.8 342.4 L250.1 344.4 L250.5 345.2 L250.8 343.9 L251.2 341.6 L251.5 339.6 L251.9 339.1 L252.2 340.3 L252.6 342.0 L252.9 343.1 L253.3 343.7 L253.6 344.3 L254.0 345.1 L254.3 345.7 L254.7 346.1 L255.0 346.0" fill="none" stroke="#1a1a1a" stroke-width="0.9" stroke-linejoin="round"/>
<path d="M254.7 346.1 L255.0 346.0 L255.4 344.9 L255.7 343.1 L256.1 342.2 L256.4 342.5 L256.8 343.8 L257.1 345.6 L257.5 347.3 L257.8 347.8 L258.2 346.6 L258.6 345.2 L258.9 344.7 L259.2 345.5 L259.6 347.1 L259.9 347.6 L260.3 346.5 L260.6 345.7 L261.0 345.9 L261.3 346.1 L261.7 345.8 L262.1 344.6 L262.4 343.1 L262.8 341.2 L263.1 338.9 L263.4 337.5 L263.8 338.6 L264.1 341.6 L264.5 343.8 L264.8 344.7 L265.2 344.9 L265.6 345.6 L265.9 346.6 L266.2 347.5 L266.6 347.5 L266.9 345.6 L267.3 342.5 L267.6 338.1 L268.0 331.9 L268.3 325.9 L268.7 324.9 L269.1 330.5 L269.4 336.8 L269.8 340.6 L270.1 342.5 L270.4 343.4 L270.8 343.5 L271.1 343.3 L271.5 343.3 L271.8 343.6 L272.2 343.6 L272.6 343.3 L272.9 343.1 L273.2 343.0 L273.6 343.1 L273.9 343.5 L274.3 343.9 L274.6 344.0 L275.0 343.1 L275.3 342.4 L275.7 343.4 L276.1 343.4 L276.4 342.1 L276.8 341.1 L277.1 340.9 L277.4 340.5 L277.8 339.8 L278.1 340.0 L278.5 341.8 L278.8 343.7 L279.2 344.5 L279.6 344.5 L279.9 344.5 L280.2 345.1 L280.6 346.0 L280.9 346.3 L281.3 345.6 L281.6 343.8 L282.0 341.7 L282.3 341.3 L282.7 342.4 L283.1 343.3 L283.4 343.3 L283.8 343.0 L284.1 342.8 L284.4 343.0 L284.8 343.7 L285.2 344.7 L285.5 345.9 L285.9 346.5 L286.2 345.9 L286.6 344.9 L286.9 344.5 L287.2 345.3 L287.6 345.8 L287.9 344.9" fill="none" stroke="#7c7c7c" stroke-width="0.9" stroke-linejoin="round"/></g>
<g><path d="M428.5 215.8 L428.9 215.9 L429.2 215.9 L429.6 216.0 L429.9 215.8 L430.2 214.7 L430.6 212.7 L430.9 210.7 L431.3 209.8 L431.6 210.9 L432.0 213.7 L432.4 216.9 L432.7 218.9 L433.1 219.0 L433.4 218.0 L433.8 216.5 L434.1 214.9 L434.4 213.7 L434.8 213.2 L435.1 213.0 L435.5 212.9 L435.9 212.9 L436.2 212.9 L436.6 213.0 L436.9 213.7 L437.2 214.6 L437.6 214.9 L437.9 214.6 L438.3 214.2 L438.6 214.5 L439.0 215.4 L439.4 217.0 L439.7 218.3 L440.1 217.9 L440.4 216.0 L440.8 214.1 L441.1 212.9 L441.4 212.7 L441.8 213.6 L442.1 214.9 L442.5 215.4 L442.9 215.6 L443.2 215.7 L443.6 215.6 L443.9 215.5 L444.2 215.3 L444.6 214.9 L444.9 214.2 L445.3 213.6 L445.6 213.1 L446.0 212.9 L446.4 213.0 L446.7 213.7 L447.1 214.2 L447.4 214.2 L447.8 213.8 L448.1 213.4 L448.4 213.3 L448.8 213.5 L449.1 214.0 L449.5 214.5 L449.9 214.7 L450.2 214.6 L450.6 214.3 L450.9 213.7 L451.2 212.8 L451.6 212.0 L451.9 211.8 L452.3 212.2 L452.6 213.0 L453.0 213.7 L453.4 214.5 L453.7 215.5 L454.1 216.3 L454.4 216.4 L454.8 215.7 L455.1 214.8 L455.4 214.4 L455.8 214.6 L456.1 215.2 L456.5 215.6 L456.9 215.6 L457.2 215.2 L457.6 214.4 L457.9 213.6 L458.2 214.3 L458.6 216.4 L458.9 218.6 L459.3 219.0 L459.6 219.0 L460.0 219.0 L460.4 217.0 L460.7 212.5 L461.1 204.5 L461.4 192.9 L461.8 176.4 L462.1 159.3 L462.4 149.6 L462.8 153.2 L463.1 168.2 L463.5 186.6 L463.9 202.1 L464.2 212.1 L464.6 217.2 L464.9 219.0 L465.2 219.0 L465.6 219.0 L465.9 218.9 L466.3 217.6 L466.6 216.0 L467.0 214.6 L467.4 213.7 L467.7 213.2 L468.1 213.6 L468.4 214.8 L468.8 215.4 L469.1 215.2 L469.4 215.0 L469.8 215.6 L470.1 217.1 L470.5 218.9 L470.9 219.0 L471.2 219.0 L471.6 216.0 L471.9 210.3 L472.2 201.5 L472.6 191.6 L472.9 184.2 L473.3 182.0 L473.6 185.8 L474.0 193.5 L474.4 201.9 L474.7 209.1 L475.1 214.3 L475.4 217.7 L475.8 219.0 L476.1 218.9 L476.4 216.6 L476.8 214.5 L477.1 214.1 L477.5 214.8 L477.9 215.8 L478.2 216.6 L478.6 216.5 L478.9 215.4 L479.2 213.7 L479.6 212.2 L479.9 212.3 L480.3 213.9 L480.6 215.9 L481.0 217.5 L481.4 218.0 L481.7 217.9 L482.1 217.4 L482.4 216.4 L482.8 214.7 L483.1 211.6 L483.4 206.8 L483.8 201.2 L484.1 197.5 L484.5 198.6 L484.9 204.4 L485.2 211.5 L485.6 216.6 L485.9 218.3 L486.2 217.5 L486.6 216.2 L486.9 215.5 L487.3 215.6 L487.6 215.4 L488.0 213.7 L488.4 210.4 L488.7 206.8 L489.1 205.1 L489.4 206.4 L489.8 209.3 L490.1 212.0 L490.4 213.6 L490.8 214.7 L491.1 215.5 L491.5 216.5 L491.9 218.0 L492.2 218.9 L492.6 218.9 L492.9 217.9 L493.2 215.8 L493.6 213.7 L493.9 212.5" fill="none" stroke="#7c7c7c" stroke-width="1.0" stroke-linejoin="round"/>
<path d="M493.9 212.5 L494.3 212.7 L494.6 214.0 L495.0 215.5 L495.4 216.4 L495.7 216.8 L496.1 216.8 L496.4 216.6 L496.8 216.3 L497.1 215.7 L497.4 214.7 L497.8 212.9 L498.1 210.3 L498.5 207.5 L498.9 205.8 L499.2 206.3 L499.6 208.8 L499.9 211.6 L500.2 213.7 L500.6 214.7 L500.9 214.7 L501.3 215.1 L501.6 215.7 L502.0 216.1 L502.4 215.9 L502.7 214.7 L503.1 212.0 L503.4 208.9 L503.8 207.1 L504.1 206.8 L504.4 207.7 L504.8 209.4 L505.1 211.2 L505.5 212.7 L505.9 213.9 L506.2 214.8 L506.6 215.5 L506.9 216.1 L507.2 216.0 L507.6 214.8 L507.9 212.3 L508.3 208.8 L508.6 204.6 L509.0 201.1 L509.4 200.4 L509.7 202.9 L510.1 206.2 L510.4 209.7 L510.8 213.4 L511.1 216.3 L511.4 218.7 L511.8 219.0 L512.1 219.0 L512.5 219.0 L512.9 219.0" fill="none" stroke="#1a1a1a" stroke-width="1.0" stroke-linejoin="round"/>
<path d="M512.9 219.0 L513.2 219.0 L513.5 215.9 L513.9 210.4 L514.2 201.2 L514.6 188.0 L515.0 171.5 L515.3 154.3 L515.6 140.7 L516.0 135.0 L516.4 139.4 L516.7 152.0 L517.0 168.5 L517.4 184.8 L517.8 197.7 L518.1 206.2 L518.5 211.6 L518.8 214.2 L519.1 213.7 L519.5 210.2 L519.9 204.7 L520.2 199.2 L520.5 195.5 L520.9 194.5 L521.2 196.2 L521.6 199.7 L522.0 204.9 L522.3 210.0 L522.6 213.8 L523.0 216.3 L523.4 217.2 L523.7 216.0 L524.0 212.0 L524.4 204.8 L524.8 195.5 L525.1 187.1 L525.5 183.2 L525.8 185.3 L526.1 192.1 L526.5 200.8 L526.9 208.3 L527.2 213.3 L527.5 216.4 L527.9 218.0 L528.2 218.0 L528.6 215.8 L529.0 210.7 L529.3 203.5 L529.6 196.2 L530.0 190.9 L530.4 188.9 L530.7 190.6 L531.0 195.0 L531.4 199.7 L531.8 203.1 L532.1 205.6 L532.5 207.9 L532.8 209.7 L533.1 210.4 L533.5 208.8 L533.9 205.1 L534.2 200.6 L534.5 198.0 L534.9 198.4 L535.2 200.8 L535.6 202.2 L536.0 202.6" fill="none" stroke="#7c7c7c" stroke-width="1.0" stroke-linejoin="round"/>
<path d="M536.0 202.6 L536.3 201.2 L536.6 195.7 L537.0 187.3 L537.4 177.4 L537.7 167.6 L538.0 159.6 L538.4 156.1 L538.8 158.6 L539.1 166.6 L539.5 178.1 L539.8 190.2 L540.1 202.1 L540.5 212.6 L540.9 218.3 L541.2 219.0 L541.5 216.8 L541.9 211.8 L542.2 205.2 L542.6 197.8 L543.0 190.2 L543.3 184.3 L543.6 182.5 L544.0 186.2 L544.4 194.2 L544.7 204.0 L545.0 212.8 L545.4 218.7 L545.8 219.0 L546.1 219.0 L546.5 218.6 L546.8 216.6 L547.1 214.4 L547.5 210.5 L547.9 203.4 L548.2 192.2 L548.5 178.0 L548.9 163.3 L549.2 152.2 L549.6 148.3 L550.0 152.6 L550.3 163.3 L550.6 177.5 L551.0 191.8 L551.4 203.1 L551.7 210.7 L552.0 214.8 L552.4 215.5 L552.8 212.9 L553.1 207.4 L553.5 200.1 L553.8 192.1 L554.1 185.2 L554.5 181.8 L554.9 183.7 L555.2 190.0 L555.5 197.9 L555.9 204.8 L556.2 209.8 L556.6 212.8 L557.0 214.2 L557.3 214.2 L557.6 212.4 L558.0 207.9 L558.4 201.4 L558.7 194.7 L559.0 190.1 L559.4 189.4 L559.8 192.7 L560.1 198.3 L560.5 204.3 L560.8 209.7 L561.1 214.5 L561.5 218.4 L561.9 219.0" fill="none" stroke="#1a1a1a" stroke-width="1.0" stroke-linejoin="round"/>
<path d="M561.9 219.0 L562.2 219.0 L562.5 215.7 L562.9 208.6 L563.2 197.9 L563.6 183.3 L564.0 165.5 L564.3 146.7 L564.6 130.3 L565.0 122.4 L565.4 126.1 L565.7 139.0 L566.0 157.0 L566.4 175.7 L566.8 191.7 L567.1 203.3 L567.5 210.3 L567.8 213.9 L568.1 216.2 L568.5 218.4 L568.9 219.0 L569.2 219.0 L569.5 219.0 L569.9 219.0 L570.2 218.3 L570.6 215.6 L571.0 213.0 L571.3 210.3 L571.6 207.0 L572.0 202.8 L572.4 198.6 L572.7 196.2 L573.0 197.3 L573.4 201.3 L573.8 205.7 L574.1 209.6 L574.5 212.9 L574.8 215.2 L575.1 216.9 L575.5 218.4 L575.9 219.0 L576.2 219.0 L576.5 217.2 L576.9 213.2 L577.2 206.7 L577.6 198.8 L578.0 191.9 L578.3 188.8 L578.6 190.6" fill="none" stroke="#7c7c7c" stroke-width="1.0" stroke-linejoin="round"/>
<path d="M578.3 188.8 L578.6 190.6 L579.0 195.9 L579.4 200.5 L579.7 200.7 L580.0 194.8 L580.4 182.6 L580.8 165.6 L581.1 147.2 L581.5 132.0 L581.8 125.6 L582.1 130.8 L582.5 145.8 L582.9 165.5 L583.2 184.7 L583.5 199.9 L583.9 209.8 L584.2 214.8 L584.6 217.0 L585.0 218.3 L585.3 219.0 L585.6 219.0 L586.0 219.0 L586.4 219.0 L586.7 219.0 L587.0 217.4 L587.4 209.9 L587.8 200.2 L588.1 189.3 L588.5 178.5 L588.8 170.2 L589.1 167.8 L589.5 172.7 L589.9 182.9 L590.2 195.2 L590.5 206.3 L590.9 213.8 L591.2 216.5 L591.6 214.6 L592.0 209.3 L592.3 201.0 L592.6 189.7 L593.0 176.2 L593.4 162.4 L593.7 149.6 L594.0 141.3 L594.4 141.3 L594.8 150.0 L595.1 164.4 L595.5 180.5 L595.8 195.0 L596.1 206.2 L596.5 214.1 L596.9 219.0 L597.2 219.0 L597.5 219.0 L597.9 219.0 L598.2 219.0 L598.6 219.0 L599.0 213.8 L599.3 207.0 L599.6 200.4 L600.0 194.4 L600.4 189.8 L600.7 187.5 L601.0 188.4 L601.4 192.3 L601.8 198.2 L602.1 204.4 L602.5 209.2 L602.8 213.5 L603.1 217.4 L603.5 219.0 L603.9 218.7 L604.2 217.2 L604.5 214.3 L604.9 209.8 L605.2 204.2 L605.6 198.6 L606.0 194.2 L606.3 192.9 L606.6 195.7 L607.0 201.4 L607.4 208.5 L607.7 214.8 L608.0 217.9 L608.4 218.0 L608.8 217.2 L609.1 216.0" fill="none" stroke="#1a1a1a" stroke-width="1.0" stroke-linejoin="round"/>
<path d="M608.8 217.2 L609.1 216.0 L609.5 215.0 L609.8 213.6 L610.1 211.3 L610.5 208.3 L610.9 205.5 L611.2 204.4 L611.5 205.7 L611.9 207.8 L612.2 210.4 L612.6 212.9 L613.0 214.4 L613.3 214.9 L613.6 215.1 L614.0 215.3 L614.4 215.3 L614.7 214.2 L615.0 211.2 L615.4 206.4 L615.8 201.1 L616.1 197.3 L616.5 197.2 L616.8 200.8 L617.1 206.5 L617.5 212.0 L617.9 216.1 L618.2 218.5 L618.5 219.0 L618.9 219.0 L619.2 218.6 L619.6 216.7 L620.0 214.0 L620.3 210.2 L620.6 204.6 L621.0 198.0 L621.4 192.3 L621.7 188.8 L622.0 188.1 L622.4 190.6 L622.8 195.4 L623.1 200.7 L623.5 205.6 L623.8 209.8 L624.1 213.2 L624.5 215.0 L624.9 215.7 L625.2 215.4 L625.5 213.9 L625.9 211.2 L626.2 207.9 L626.6 204.9 L627.0 203.0 L627.3 203.8 L627.6 207.2 L628.0 211.5 L628.4 215.6 L628.7 218.8 L629.0 219.0" fill="none" stroke="#7c7c7c" stroke-width="1.0" stroke-linejoin="round"/>
<path d="M628.7 218.8 L629.0 219.0 L629.4 219.0 L629.8 217.9 L630.1 215.2 L630.5 211.3 L630.8 204.8 L631.1 195.7 L631.5 184.3 L631.9 171.7 L632.2 159.9 L632.5 152.0 L632.9 151.9 L633.2 159.9 L633.6 172.3 L634.0 185.9 L634.3 198.1 L634.6 207.4 L635.0 213.9 L635.4 218.4 L635.7 219.0 L636.0 219.0 L636.4 219.0 L636.8 218.5 L637.1 213.2 L637.5 206.6 L637.8 200.0 L638.1 195.4 L638.5 194.0 L638.9 195.8 L639.2 199.7 L639.5 204.9 L639.9 210.0 L640.2 213.7 L640.6 216.3 L641.0 218.3 L641.3 219.0 L641.6 219.0 L642.0 218.8 L642.4 216.1 L642.7 212.3 L643.0 207.4 L643.4 200.6 L643.8 191.6 L644.1 181.6 L644.5 173.3 L644.8 170.0 L645.1 173.4 L645.5 182.0 L645.9 192.7 L646.2 202.4 L646.5 209.1 L646.9 212.5 L647.2 213.5 L647.6 213.9 L648.0 214.9 L648.3 216.4 L648.6 217.7 L649.0 218.1 L649.4 217.4 L649.7 215.6 L650.0 212.6 L650.4 208.4 L650.8 203.5 L651.1 198.9 L651.5 196.1 L651.8 196.1 L652.1 199.0 L652.5 204.1 L652.9 209.7 L653.2 213.7 L653.5 215.5 L653.9 215.6 L654.2 214.5 L654.6 213.0 L655.0 212.2 L655.3 212.7 L655.6 213.5 L656.0 212.9 L656.4 210.4 L656.7 208.4 L657.0 207.1 L657.4 206.6 L657.8 207.1 L658.1 208.2 L658.5 209.4 L658.8 210.6 L659.1 211.7 L659.5 212.9 L659.9 214.8 L660.2 217.0 L660.5 218.3 L660.9 218.1" fill="none" stroke="#1a1a1a" stroke-width="1.0" stroke-linejoin="round"/>
<path d="M660.9 218.1 L661.2 216.9 L661.6 215.4 L662.0 214.0 L662.3 213.4 L662.6 214.2 L663.0 215.4 L663.4 215.9 L663.7 215.4 L664.0 214.3 L664.4 213.2 L664.8 211.9 L665.1 209.6 L665.5 205.4 L665.8 200.2 L666.1 196.9 L666.5 198.8 L666.9 205.2 L667.2 211.8 L667.5 215.9 L667.9 217.3 L668.2 216.5 L668.6 214.9 L669.0 213.9 L669.3 213.9 L669.6 214.3 L670.0 215.2 L670.4 216.4 L670.7 217.1 L671.0 217.0 L671.4 216.7 L671.8 216.3 L672.1 216.1 L672.5 216.1 L672.8 215.9 L673.1 215.6 L673.5 215.1 L673.9 214.8 L674.2 214.5 L674.5 213.9 L674.9 212.4 L675.2 210.5 L675.6 209.3 L676.0 209.9 L676.3 211.7 L676.6 213.8 L677.0 215.6 L677.4 216.7 L677.7 217.2 L678.0 216.9 L678.4 215.7 L678.8 214.2 L679.1 214.0 L679.5 214.7 L679.8 215.1 L680.1 215.1 L680.5 215.1 L680.9 214.8 L681.2 214.2 L681.5 213.8 L681.9 214.4 L682.2 215.2 L682.6 215.3 L683.0 215.0 L683.3 214.8 L683.6 215.0 L684.0 215.4 L684.4 215.7 L684.7 215.7" fill="none" stroke="#7c7c7c" stroke-width="1.0" stroke-linejoin="round"/></g>
<g><path d="M411.8 346.6 L412.2 346.8 L412.5 346.9 L412.9 347.2 L413.2 347.4 L413.6 347.3 L413.9 347.1 L414.2 347.2 L414.6 347.5 L414.9 347.7 L415.3 347.5 L415.7 347.2 L416.0 346.8 L416.4 346.4 L416.7 346.0 L417.1 344.9 L417.4 342.2 L417.8 337.8 L418.1 332.8 L418.4 330.6 L418.8 333.2 L419.2 337.8 L419.5 341.9 L419.9 344.7 L420.2 346.7 L420.6 347.8 L420.9 347.5 L421.2 346.8 L421.6 346.0 L421.9 345.2 L422.3 344.9 L422.7 345.0 L423.0 345.3 L423.4 345.6 L423.7 345.8 L424.1 345.8 L424.4 345.4 L424.8 344.8 L425.1 344.2 L425.4 343.3 L425.8 341.9 L426.2 340.7 L426.5 340.7 L426.9 342.0 L427.2 343.4 L427.6 344.2 L427.9 345.4 L428.2 346.5 L428.6 347.0 L428.9 347.0 L429.3 346.8 L429.7 346.3 L430.0 345.8 L430.4 345.6 L430.7 345.8 L431.1 346.3 L431.4 346.9 L431.8 347.2 L432.1 347.1 L432.4 346.7 L432.8 346.4 L433.2 346.3 L433.5 346.5 L433.9 346.9 L434.2 347.2 L434.6 347.4 L434.9 347.1 L435.2 346.6 L435.6 346.2 L435.9 346.0 L436.3 345.6 L436.7 345.1 L437.0 344.5 L437.4 344.3 L437.7 344.9 L438.1 346.0 L438.4 347.2 L438.8 347.8 L439.1 347.6 L439.4 346.8 L439.8 345.9 L440.2 345.5 L440.5 345.8 L440.9 346.2 L441.2 346.4 L441.6 346.4 L441.9 346.0 L442.2 344.8 L442.6 342.6 L442.9 339.6 L443.3 337.1 L443.7 337.3 L444.0 340.4 L444.4 343.5 L444.7 344.9 L445.1 344.2 L445.4 340.4 L445.8 332.8 L446.1 324.2 L446.4 322.9 L446.8 329.9 L447.1 337.5 L447.5 342.7 L447.9 346.1 L448.2 348.5 L448.6 349.2 L448.9 348.9 L449.2 348.0 L449.6 347.3 L449.9 347.2 L450.3 347.2 L450.6 346.8 L451.0 346.4 L451.4 346.1 L451.7 346.2 L452.1 346.7 L452.4 347.7 L452.8 348.9 L453.1 349.2 L453.4 349.2 L453.8 349.2 L454.1 348.0 L454.5 345.1 L454.9 340.3 L455.2 332.0 L455.6 319.4 L455.9 303.8 L456.2 289.3 L456.6 285.1 L456.9 295.2 L457.3 311.2 L457.6 325.8 L458.0 336.1 L458.4 342.0 L458.7 345.5 L459.1 348.1 L459.4 349.2 L459.8 349.2 L460.1 349.2 L460.4 349.2 L460.8 347.9 L461.1 345.3 L461.5 341.5 L461.9 335.9 L462.2 328.1 L462.6 319.8 L462.9 315.2 L463.2 319.2 L463.6 328.0 L463.9 336.1 L464.3 341.6 L464.6 345.0 L465.0 347.1 L465.4 348.2 L465.7 348.6 L466.1 348.1 L466.4 347.2 L466.8 346.2 L467.1 345.1 L467.4 344.4 L467.8 344.6 L468.1 345.0 L468.5 345.2 L468.9 345.4 L469.2 345.9 L469.6 346.7 L469.9 347.3 L470.2 347.3 L470.6 346.9 L470.9 346.3 L471.3 345.9 L471.6 345.6 L472.0 345.4 L472.4 345.4 L472.7 345.8 L473.1 346.0 L473.4 346.0 L473.8 346.0 L474.1 346.1 L474.4 346.2 L474.8 346.3 L475.1 346.2 L475.5 346.0 L475.9 345.7 L476.2 345.4 L476.6 345.6 L476.9 346.4 L477.2 346.8 L477.6 347.1 L477.9 347.2" fill="none" stroke="#7c7c7c" stroke-width="0.9" stroke-linejoin="round"/>
<path d="M477.9 347.2 L478.3 347.1 L478.6 347.0 L479.0 347.0 L479.4 347.1 L479.7 346.8 L480.1 345.7 L480.4 343.7 L480.8 340.6 L481.1 335.9 L481.4 331.3 L481.8 330.1 L482.1 333.6 L482.5 338.3 L482.9 341.9 L483.2 343.8 L483.6 344.4 L483.9 346.0 L484.2 347.7 L484.6 348.0 L484.9 347.6 L485.3 346.8 L485.6 345.7 L486.0 344.4 L486.4 342.7 L486.7 340.2 L487.1 337.4 L487.4 335.9 L487.8 337.2 L488.1 340.0 L488.4 342.6 L488.8 344.4 L489.1 346.0 L489.5 347.1 L489.9 347.3 L490.2 347.0 L490.6 346.8 L490.9 346.7 L491.2 346.0 L491.6 344.4 L491.9 342.5 L492.3 340.4 L492.6 338.5 L493.0 338.4 L493.4 340.1 L493.7 342.2 L494.1 344.2 L494.4 345.6 L494.8 346.1 L495.1 346.4 L495.4 346.8" fill="none" stroke="#1a1a1a" stroke-width="0.9" stroke-linejoin="round"/>
<path d="M495.4 346.8 L495.8 347.7 L496.1 348.5 L496.5 348.8 L496.9 348.0 L497.2 345.8 L497.6 341.1 L497.9 332.1 L498.2 316.5 L498.6 294.0 L498.9 268.7 L499.3 251.6 L499.6 255.9 L500.0 277.4 L500.4 302.5 L500.7 322.9 L501.1 336.3 L501.4 343.7 L501.8 347.6 L502.1 349.2 L502.4 349.2 L502.8 349.2 L503.1 349.2 L503.5 349.0 L503.9 348.2 L504.2 346.6 L504.6 344.2 L504.9 340.4 L505.2 334.5 L505.6 326.7 L505.9 319.2 L506.3 317.1 L506.6 322.6 L507.0 330.8 L507.4 338.2 L507.7 343.7 L508.1 347.4 L508.4 349.2 L508.8 349.2 L509.1 348.7 L509.4 347.5 L509.8 346.2 L510.1 345.4 L510.5 345.2 L510.9 345.4 L511.2 345.7 L511.6 345.9 L511.9 346.0 L512.2 346.1 L512.6 346.1 L513.0 345.8 L513.3 345.1 L513.6 345.3 L514.0 345.6 L514.4 345.3 L514.7 344.7 L515.0 343.8 L515.4 342.3 L515.8 340.3 L516.1 338.7 L516.5 338.9 L516.8 341.1 L517.1 344.0 L517.5 347.1 L517.9 349.2 L518.2 349.2 L518.5 349.2" fill="none" stroke="#7c7c7c" stroke-width="0.9" stroke-linejoin="round"/>
<path d="M518.2 349.2 L518.5 349.2 L518.9 348.8 L519.2 345.7 L519.6 340.3 L520.0 331.7 L520.3 319.2 L520.6 304.3 L521.0 292.3 L521.4 291.2 L521.7 302.3 L522.0 317.4 L522.4 331.0 L522.8 340.7 L523.1 346.2 L523.5 349.0 L523.8 349.2 L524.1 349.2 L524.5 349.2 L524.9 349.2 L525.2 348.9 L525.5 346.1 L525.9 341.6 L526.2 334.6 L526.6 324.8 L527.0 314.4 L527.3 309.3 L527.6 314.6 L528.0 325.0 L528.4 334.7 L528.7 341.4 L529.0 345.4 L529.4 347.8 L529.8 349.1 L530.1 349.2 L530.5 349.0 L530.8 347.8 L531.1 346.5 L531.5 344.6 L531.9 342.0 L532.2 339.0 L532.5 335.6 L532.9 332.2 L533.2 331.9 L533.6 335.3 L534.0 339.3 L534.3 342.5 L534.6 344.6 L535.0 346.0 L535.4 346.9 L535.7 347.2 L536.0 346.7 L536.4 345.7 L536.8 344.7 L537.1 344.2 L537.5 343.3 L537.8 341.5 L538.1 339.3 L538.5 338.6 L538.9 340.0 L539.2 342.4 L539.5 344.6 L539.9 346.0 L540.2 346.5 L540.6 346.3 L541.0 345.9 L541.3 345.7 L541.6 345.9 L542.0 345.8" fill="none" stroke="#1a1a1a" stroke-width="0.9" stroke-linejoin="round"/>
<path d="M541.6 345.9 L542.0 345.8 L542.4 345.3 L542.7 345.2 L543.0 345.4 L543.4 345.7 L543.8 346.2 L544.1 347.2 L544.5 348.6 L544.8 349.2 L545.1 348.7 L545.5 346.8 L545.9 344.4 L546.2 342.1 L546.5 337.8 L546.9 329.9 L547.2 318.3 L547.6 304.7 L548.0 296.4 L548.3 300.2 L548.6 312.2 L549.0 325.4 L549.4 336.1 L549.7 343.2 L550.0 347.2 L550.4 349.2 L550.8 349.2 L551.1 349.2 L551.5 349.2 L551.8 347.8 L552.1 345.9 L552.5 344.3 L552.9 343.7 L553.2 343.9 L553.5 343.7 L553.9 342.0 L554.2 338.6 L554.6 334.5 L555.0 332.6 L555.3 334.9 L555.6 338.8 L556.0 342.5 L556.4 345.2 L556.7 346.8 L557.0 347.5 L557.4 347.3 L557.8 346.5 L558.1 345.4 L558.5 343.7 L558.8 341.2 L559.1 338.5 L559.5 337.0 L559.9 338.3 L560.2 341.2 L560.5 344.2 L560.9 346.5 L561.2 348.1 L561.6 349.1 L562.0 349.2 L562.3 349.2 L562.6 349.2" fill="none" stroke="#7c7c7c" stroke-width="0.9" stroke-linejoin="round"/>
<path d="M562.3 349.2 L562.6 349.2 L563.0 347.6 L563.4 344.4 L563.7 339.9 L564.0 332.4 L564.4 320.9 L564.8 306.9 L565.1 295.5 L565.5 294.3 L565.8 304.1 L566.1 317.7 L566.5 329.8 L566.9 338.6 L567.2 344.2 L567.5 347.5 L567.9 349.2 L568.2 349.2 L568.6 349.2 L569.0 349.2 L569.3 348.3 L569.6 345.7 L570.0 342.5 L570.4 337.5 L570.7 330.2 L571.0 322.2 L571.4 318.1 L571.8 321.9 L572.1 329.7 L572.5 337.1 L572.8 342.1 L573.1 344.9 L573.5 346.7 L573.9 347.7 L574.2 348.0 L574.5 348.0 L574.9 347.7 L575.2 347.6 L575.6 347.4 L576.0 346.8 L576.3 346.0 L576.6 345.0 L577.0 343.6 L577.4 341.7 L577.7 339.7 L578.0 339.4 L578.4 341.3 L578.8 343.8 L579.1 345.5 L579.5 346.2 L579.8 346.4 L580.1 346.3 L580.5 345.9 L580.9 345.5 L581.2 345.7 L581.5 346.2 L581.9 346.5 L582.2 346.5 L582.6 346.0 L583.0 345.3 L583.3 345.5 L583.6 346.0 L584.0 346.2 L584.4 346.4 L584.7 346.5 L585.0 346.5 L585.4 346.1 L585.8 345.9 L586.1 345.7 L586.5 345.1 L586.8 344.0 L587.1 342.7 L587.5 342.3 L587.9 343.2 L588.2 344.9 L588.5 346.1 L588.9 346.6 L589.2 346.5 L589.6 346.0 L590.0 345.1 L590.3 345.0 L590.6 345.2 L591.0 345.1 L591.4 345.1 L591.7 345.4 L592.0 345.9 L592.4 346.4 L592.8 346.4 L593.1 346.1 L593.5 345.6 L593.8 345.3 L594.1 345.1 L594.5 345.1 L594.9 345.1 L595.2 345.5 L595.5 345.8 L595.9 345.9" fill="none" stroke="#1a1a1a" stroke-width="0.9" stroke-linejoin="round"/>
<path d="M595.9 345.9 L596.2 346.0 L596.6 345.8 L597.0 345.6 L597.3 345.8 L597.6 346.2 L598.0 346.3 L598.4 346.7 L598.7 347.1 L599.0 347.3 L599.4 347.3 L599.8 346.9 L600.1 346.1 L600.5 345.1 L600.8 344.6 L601.1 344.7 L601.5 344.9 L601.9 344.7 L602.2 344.1 L602.5 342.7 L602.9 340.2 L603.2 336.9 L603.6 335.1 L604.0 336.6 L604.3 339.4 L604.6 341.7 L605.0 343.3 L605.4 344.7 L605.7 345.9 L606.0 346.8 L606.4 347.4 L606.8 347.3 L607.1 346.7 L607.5 346.0 L607.8 345.7 L608.1 345.8 L608.5 346.3 L608.9 347.0 L609.2 347.5 L609.5 347.4 L609.9 347.0" fill="none" stroke="#7c7c7c" stroke-width="0.9" stroke-linejoin="round"/>
<path d="M609.9 347.0 L610.2 346.5 L610.6 346.3 L611.0 346.5 L611.3 346.9 L611.6 347.1 L612.0 347.1 L612.4 347.2 L612.7 347.4 L613.0 347.4 L613.4 347.0 L613.8 345.7 L614.1 343.0 L614.5 338.3 L614.8 332.5 L615.1 328.8 L615.5 330.4 L615.9 335.5 L616.2 340.7 L616.5 344.4 L616.9 346.4 L617.2 347.2 L617.6 347.4 L618.0 347.2 L618.3 346.8 L618.6 346.4 L619.0 346.5 L619.4 346.6 L619.7 346.6 L620.0 346.5 L620.4 346.2 L620.8 345.6 L621.1 344.2 L621.5 341.9 L621.8 339.3 L622.1 338.0 L622.5 339.1 L622.9 341.3 L623.2 343.6 L623.5 345.4 L623.9 346.6 L624.2 347.2 L624.6 347.2 L625.0 346.8 L625.3 346.4 L625.6 346.1 L626.0 345.7 L626.4 345.2 L626.7 344.3 L627.0 343.2 L627.4 341.9 L627.8 341.3 L628.1 342.1 L628.5 343.5 L628.8 344.6 L629.1 345.3 L629.5 345.7 L629.9 345.9 L630.2 345.6 L630.5 345.3 L630.9 345.6 L631.2 346.2 L631.6 346.4 L632.0 346.0 L632.3 345.6 L632.6 345.2 L633.0 344.9 L633.4 344.4 L633.7 343.6 L634.0 342.8 L634.4 342.4 L634.8 343.1 L635.1 344.4 L635.5 345.5 L635.8 346.1 L636.1 346.3 L636.5 346.3 L636.9 346.1 L637.2 345.4 L637.5 344.7 L637.9 345.1 L638.2 345.9 L638.6 345.9 L639.0 345.1 L639.3 344.4 L639.6 345.3 L640.0 346.1" fill="none" stroke="#1a1a1a" stroke-width="0.9" stroke-linejoin="round"/>
<path d="M639.6 345.3 L640.0 346.1 L640.4 346.6 L640.7 347.2 L641.0 346.9 L641.4 346.5 L641.8 346.4 L642.1 346.5 L642.5 346.7 L642.8 346.8 L643.1 346.3 L643.5 345.9 L643.9 345.4 L644.2 345.6 L644.5 346.6 L644.9 347.3 L645.2 347.5 L645.6 347.3 L646.0 346.8 L646.3 346.3 L646.6 345.6 L647.0 344.8 L647.4 343.6 L647.7 342.3 L648.0 341.7 L648.4 342.5 L648.8 344.0 L649.1 345.2 L649.5 346.0 L649.8 346.4 L650.1 346.4 L650.5 345.7 L650.9 345.1 L651.2 345.6 L651.5 346.0 L651.9 346.0 L652.2 346.0 L652.6 345.8 L653.0 345.4 L653.3 344.8 L653.6 344.3 L654.0 343.9 L654.4 343.9 L654.7 345.1 L655.0 346.2 L655.4 346.6 L655.8 346.5 L656.1 346.2 L656.5 345.7 L656.8 345.0 L657.1 344.1 L657.5 342.8 L657.9 341.8 L658.2 342.0 L658.5 343.2 L658.9 344.5 L659.2 345.5 L659.6 346.0 L660.0 345.9 L660.3 345.2 L660.6 344.2 L661.0 344.0 L661.4 345.0 L661.7 345.9 L662.0 346.4 L662.4 346.5 L662.8 346.5 L663.1 346.3 L663.5 345.9 L663.8 345.3 L664.1 344.6 L664.5 344.1 L664.9 344.0 L665.2 344.4 L665.5 345.2 L665.9 346.0 L666.2 346.2 L666.6 346.1 L667.0 346.3 L667.3 346.4 L667.6 346.1 L668.0 346.0 L668.4 346.5 L668.7 346.9" fill="none" stroke="#7c7c7c" stroke-width="0.9" stroke-linejoin="round"/></g>

<g stroke="#5c5c5c" stroke-width="1" fill="none">
<!-- spectrum 3 axes -->
<path d="M28.5 265 V350 M26 349.5 H289.5"/>
<path d="M26 265.5 H28.5 M26 307.5 H28.5"/>
<path d="M71.5 349.5 v3 M115.5 349.5 v3 M158.5 349.5 v3 M202.5 349.5 v3 M246.5 349.5 v3"/>
<!-- spectrum 5 axes -->
<path d="M411.5 252 V350 M408.2 349.5 H668.8"/>
<path d="M408.2 252.5 H411.5 M408.2 300.5 H411.5"/>
<path d="M454.5 349.5 v3 M497.5 349.5 v3 M540.5 349.5 v3 M582.5 349.5 v3 M625.5 349.5 v3"/>
</g>
<g stroke="#262626" stroke-width="1.15" fill="none">
<!-- bar a axes -->
<path d="M313.5 254.1 V348.9 M311 348.3 H373"/>
<path d="M311.0 254.6 H313.5 M311.0 278 H313.5 M311.0 301.3 H313.5 M311.0 324.6 H313.5"/>
<path d="M325.8 348.4 v2.3 M344.6 348.4 v2.3 M363.4 348.4 v2.3" stroke-width="0.9"/>
<!-- bar b axes -->
<path d="M452.6 4.3 V89.9 M448.2 89.4 H500"/>
<path d="M448.2 4.8 H452.6 M448.2 25.9 H452.6 M448.2 47 H452.6 M448.2 68.1 H452.6"/>
<path d="M463.4 89.4 v2.3 M486.7 89.4 v2.3" stroke-width="0.9"/>
</g>


<g stroke="#3f8fe0" stroke-width="0.7" stroke-dasharray="1.1 1.1" fill="none">
<path d="M530.6 152.5 L529.8 160 L530.2 168"/>
<path d="M529.0 181.5 L529.6 186"/>
<path d="M534.4 183.4 L534.8 203"/>
<path d="M586.3 140.2 L588.8 168.4"/>
<path d="M593.6 141.0 L599.5 138.6"/>
</g>
<path d="M613.9 128.6 L610.6 139.6" stroke="#333" stroke-width="0.7" fill="none"/>

<g><path d="M27.20 29.30 q-0.7 1.4 0.1 2.8 q0.7 1.4 0 2.9" fill="none" stroke="#2b2417" stroke-width="0.85"/><path d="M29.10 29.30 q-0.7 1.4 0.1 2.8 q0.7 1.4 0 2.9" fill="none" stroke="#2b2417" stroke-width="0.85"/><path d="M31.00 29.30 q-0.7 1.4 0.1 2.8 q0.7 1.4 0 2.9" fill="none" stroke="#2b2417" stroke-width="0.85"/><path d="M32.90 29.30 q-0.7 1.4 0.1 2.8 q0.7 1.4 0 2.9" fill="none" stroke="#2b2417" stroke-width="0.85"/><path d="M34.80 29.30 q-0.7 1.4 0.1 2.8 q0.7 1.4 0 2.9" fill="none" stroke="#2b2417" stroke-width="0.85"/><path d="M36.70 29.30 q-0.7 1.4 0.1 2.8 q0.7 1.4 0 2.9" fill="none" stroke="#2b2417" stroke-width="0.85"/><ellipse cx="31.8" cy="26.5" rx="6.5" ry="3.6" fill="#fbb712" stroke="#2e2216" stroke-width="0.75"/></g><g><path d="M25.70 52.90 q-0.7 1.4 0.1 2.8 q0.7 1.4 0 2.9" fill="none" stroke="#2b2417" stroke-width="0.85"/><path d="M27.60 52.90 q-0.7 1.4 0.1 2.8 q0.7 1.4 0 2.9" fill="none" stroke="#2b2417" stroke-width="0.85"/><path d="M29.50 52.90 q-0.7 1.4 0.1 2.8 q0.7 1.4 0 2.9" fill="none" stroke="#2b2417" stroke-width="0.85"/><path d="M31.40 52.90 q-0.7 1.4 0.1 2.8 q0.7 1.4 0 2.9" fill="none" stroke="#2b2417" stroke-width="0.85"/><path d="M33.30 52.90 q-0.7 1.4 0.1 2.8 q0.7 1.4 0 2.9" fill="none" stroke="#2b2417" stroke-width="0.85"/><path d="M35.20 52.90 q-0.7 1.4 0.1 2.8 q0.7 1.4 0 2.9" fill="none" stroke="#2b2417" stroke-width="0.85"/><ellipse cx="30.3" cy="50.1" rx="6.5" ry="3.6" fill="#ec1c24" stroke="#2e2216" stroke-width="0.75"/></g><g><path d="M25.70 77.30 q-0.7 1.4 0.1 2.8 q0.7 1.4 0 2.9" fill="none" stroke="#2b2417" stroke-width="0.85"/><path d="M27.60 77.30 q-0.7 1.4 0.1 2.8 q0.7 1.4 0 2.9" fill="none" stroke="#2b2417" stroke-width="0.85"/><path d="M29.50 77.30 q-0.7 1.4 0.1 2.8 q0.7 1.4 0 2.9" fill="none" stroke="#2b2417" stroke-width="0.85"/><path d="M31.40 77.30 q-0.7 1.4 0.1 2.8 q0.7 1.4 0 2.9" fill="none" stroke="#2b2417" stroke-width="0.85"/><path d="M33.30 77.30 q-0.7 1.4 0.1 2.8 q0.7 1.4 0 2.9" fill="none" stroke="#2b2417" stroke-width="0.85"/><path d="M35.20 77.30 q-0.7 1.4 0.1 2.8 q0.7 1.4 0 2.9" fill="none" stroke="#2b2417" stroke-width="0.85"/><ellipse cx="30.3" cy="74.5" rx="6.5" ry="3.6" fill="#a765a9" stroke="#2e2216" stroke-width="0.75"/></g><g><path d="M570.40 18.10 q-0.7 1.4 0.1 2.8 q0.7 1.4 0 2.9" fill="none" stroke="#2b2417" stroke-width="0.85"/><path d="M572.30 18.10 q-0.7 1.4 0.1 2.8 q0.7 1.4 0 2.9" fill="none" stroke="#2b2417" stroke-width="0.85"/><path d="M574.20 18.10 q-0.7 1.4 0.1 2.8 q0.7 1.4 0 2.9" fill="none" stroke="#2b2417" stroke-width="0.85"/><path d="M576.10 18.10 q-0.7 1.4 0.1 2.8 q0.7 1.4 0 2.9" fill="none" stroke="#2b2417" stroke-width="0.85"/><path d="M578.00 18.10 q-0.7 1.4 0.1 2.8 q0.7 1.4 0 2.9" fill="none" stroke="#2b2417" stroke-width="0.85"/><path d="M579.90 18.10 q-0.7 1.4 0.1 2.8 q0.7 1.4 0 2.9" fill="none" stroke="#2b2417" stroke-width="0.85"/><ellipse cx="575.0" cy="15.3" rx="6.5" ry="3.6" fill="#fbb712" stroke="#2e2216" stroke-width="0.75"/></g><g><path d="M570.40 41.10 q-0.7 1.4 0.1 2.8 q0.7 1.4 0 2.9" fill="none" stroke="#2b2417" stroke-width="0.85"/><path d="M572.30 41.10 q-0.7 1.4 0.1 2.8 q0.7 1.4 0 2.9" fill="none" stroke="#2b2417" stroke-width="0.85"/><path d="M574.20 41.10 q-0.7 1.4 0.1 2.8 q0.7 1.4 0 2.9" fill="none" stroke="#2b2417" stroke-width="0.85"/><path d="M576.10 41.10 q-0.7 1.4 0.1 2.8 q0.7 1.4 0 2.9" fill="none" stroke="#2b2417" stroke-width="0.85"/><path d="M578.00 41.10 q-0.7 1.4 0.1 2.8 q0.7 1.4 0 2.9" fill="none" stroke="#2b2417" stroke-width="0.85"/><path d="M579.90 41.10 q-0.7 1.4 0.1 2.8 q0.7 1.4 0 2.9" fill="none" stroke="#2b2417" stroke-width="0.85"/><ellipse cx="575.0" cy="38.3" rx="6.5" ry="3.6" fill="#a9d9f2" stroke="#2e2216" stroke-width="0.75"/></g><g><path d="M321.94 357.91 q-0.7 1.4 0.1 2.8 q0.7 1.4 0 2.9" fill="none" stroke="#2b2417" stroke-width="0.73"/><path d="M323.58 357.91 q-0.7 1.4 0.1 2.8 q0.7 1.4 0 2.9" fill="none" stroke="#2b2417" stroke-width="0.73"/><path d="M325.21 357.91 q-0.7 1.4 0.1 2.8 q0.7 1.4 0 2.9" fill="none" stroke="#2b2417" stroke-width="0.73"/><path d="M326.85 357.91 q-0.7 1.4 0.1 2.8 q0.7 1.4 0 2.9" fill="none" stroke="#2b2417" stroke-width="0.73"/><path d="M328.48 357.91 q-0.7 1.4 0.1 2.8 q0.7 1.4 0 2.9" fill="none" stroke="#2b2417" stroke-width="0.73"/><path d="M330.11 357.91 q-0.7 1.4 0.1 2.8 q0.7 1.4 0 2.9" fill="none" stroke="#2b2417" stroke-width="0.73"/><ellipse cx="325.9" cy="355.5" rx="5.6" ry="3.1" fill="#fbb712" stroke="#2e2216" stroke-width="0.75"/></g><g><path d="M340.64 357.91 q-0.7 1.4 0.1 2.8 q0.7 1.4 0 2.9" fill="none" stroke="#2b2417" stroke-width="0.73"/><path d="M342.28 357.91 q-0.7 1.4 0.1 2.8 q0.7 1.4 0 2.9" fill="none" stroke="#2b2417" stroke-width="0.73"/><path d="M343.91 357.91 q-0.7 1.4 0.1 2.8 q0.7 1.4 0 2.9" fill="none" stroke="#2b2417" stroke-width="0.73"/><path d="M345.55 357.91 q-0.7 1.4 0.1 2.8 q0.7 1.4 0 2.9" fill="none" stroke="#2b2417" stroke-width="0.73"/><path d="M347.18 357.91 q-0.7 1.4 0.1 2.8 q0.7 1.4 0 2.9" fill="none" stroke="#2b2417" stroke-width="0.73"/><path d="M348.81 357.91 q-0.7 1.4 0.1 2.8 q0.7 1.4 0 2.9" fill="none" stroke="#2b2417" stroke-width="0.73"/><ellipse cx="344.6" cy="355.5" rx="5.6" ry="3.1" fill="#ec1c24" stroke="#2e2216" stroke-width="0.75"/></g><g><path d="M359.44 357.91 q-0.7 1.4 0.1 2.8 q0.7 1.4 0 2.9" fill="none" stroke="#2b2417" stroke-width="0.73"/><path d="M361.08 357.91 q-0.7 1.4 0.1 2.8 q0.7 1.4 0 2.9" fill="none" stroke="#2b2417" stroke-width="0.73"/><path d="M362.71 357.91 q-0.7 1.4 0.1 2.8 q0.7 1.4 0 2.9" fill="none" stroke="#2b2417" stroke-width="0.73"/><path d="M364.35 357.91 q-0.7 1.4 0.1 2.8 q0.7 1.4 0 2.9" fill="none" stroke="#2b2417" stroke-width="0.73"/><path d="M365.98 357.91 q-0.7 1.4 0.1 2.8 q0.7 1.4 0 2.9" fill="none" stroke="#2b2417" stroke-width="0.73"/><path d="M367.61 357.91 q-0.7 1.4 0.1 2.8 q0.7 1.4 0 2.9" fill="none" stroke="#2b2417" stroke-width="0.73"/><ellipse cx="363.4" cy="355.5" rx="5.6" ry="3.1" fill="#a765a9" stroke="#2e2216" stroke-width="0.75"/></g>
<g transform="translate(193.00,24.10) scale(1.000,1.000)" stroke="#2e2216" stroke-width="0.60" stroke-linejoin="round"><path d="M8.2 0.2 h3.5 q1.0 0 0.7 1.1 l-3.0 8.4 h-2.6 z" fill="#f7941d"/><path d="M2.9 12.5 L2.5 7.6 Q2.2 5.2 0.8 3.3 Q-0.3 1.6 0.5 0.6 Q1.1 -0.1 2.6 0 Q4.5 0 4.85 1.2 L5.05 12.5 Z" fill="#ec9fc4"/><path d="M5.05 12.5 L5.25 1.2 Q5.6 0 7.5 0 Q9.0 -0.1 9.7 0.6 Q10.5 1.6 9.4 3.3 Q8.0 5.2 7.7 7.6 L7.3 12.5 Z" fill="#2aa9e0"/><rect x="2.1" y="12.4" width="2.95" height="3" rx="0.6" fill="#56b356"/><rect x="5.05" y="12.4" width="2.95" height="3" rx="0.6" fill="#f4e23c"/></g>
<g transform="translate(201.85,75.80) scale(1.000,1.000)" stroke="#2e2216" stroke-width="0.60" stroke-linejoin="round"><path d="M8.2 0.2 h3.5 q1.0 0 0.7 1.1 l-3.0 8.4 h-2.6 z" fill="#f7941d"/><path d="M2.9 12.5 L2.5 7.6 Q2.2 5.2 0.8 3.3 Q-0.3 1.6 0.5 0.6 Q1.1 -0.1 2.6 0 Q4.5 0 4.85 1.2 L5.05 12.5 Z" fill="#ec9fc4"/><path d="M5.05 12.5 L5.25 1.2 Q5.6 0 7.5 0 Q9.0 -0.1 9.7 0.6 Q10.5 1.6 9.4 3.3 Q8.0 5.2 7.7 7.6 L7.3 12.5 Z" fill="#2aa9e0"/><rect x="2.1" y="12.4" width="2.95" height="3" rx="0.6" fill="#56b356"/><rect x="5.05" y="12.4" width="2.95" height="3" rx="0.6" fill="#f4e23c"/><path d="M-1.10 3.75 v2.2 M0.10 3.95 v2.4 M1.30 3.75 v2.2" stroke="#1a1a1a" stroke-width="0.55" fill="none"/><ellipse cx="0.10" cy="3.05" rx="2.40" ry="1.50" fill="#a765a9" stroke-width="0.50"/></g>
<g transform="translate(166.65,133.20) scale(1.000,1.000)" stroke="#2e2216" stroke-width="0.60" stroke-linejoin="round"><path d="M8.2 0.2 h3.5 q1.0 0 0.7 1.1 l-3.0 8.4 h-2.6 z" fill="#f7941d"/><path d="M2.9 12.5 L2.5 7.6 Q2.2 5.2 0.8 3.3 Q-0.3 1.6 0.5 0.6 Q1.1 -0.1 2.6 0 Q4.5 0 4.85 1.2 L5.05 12.5 Z" fill="#ec9fc4"/><path d="M5.05 12.5 L5.25 1.2 Q5.6 0 7.5 0 Q9.0 -0.1 9.7 0.6 Q10.5 1.6 9.4 3.3 Q8.0 5.2 7.7 7.6 L7.3 12.5 Z" fill="#2aa9e0"/><rect x="2.1" y="12.4" width="2.95" height="3" rx="0.6" fill="#56b356"/><rect x="5.05" y="12.4" width="2.95" height="3" rx="0.6" fill="#f4e23c"/><path d="M-1.35 4.00 v2.2 M-0.15 4.20 v2.4 M1.05 4.00 v2.2" stroke="#1a1a1a" stroke-width="0.55" fill="none"/><ellipse cx="-0.15" cy="3.30" rx="2.40" ry="1.50" fill="#ec1c24" stroke-width="0.50"/></g>
<g transform="translate(152.60,150.40) scale(1.000,1.000)" stroke="#2e2216" stroke-width="0.60" stroke-linejoin="round"><path d="M8.2 0.2 h3.5 q1.0 0 0.7 1.1 l-3.0 8.4 h-2.6 z" fill="#f7941d"/><path d="M2.9 12.5 L2.5 7.6 Q2.2 5.2 0.8 3.3 Q-0.3 1.6 0.5 0.6 Q1.1 -0.1 2.6 0 Q4.5 0 4.85 1.2 L5.05 12.5 Z" fill="#ec9fc4"/><path d="M5.05 12.5 L5.25 1.2 Q5.6 0 7.5 0 Q9.0 -0.1 9.7 0.6 Q10.5 1.6 9.4 3.3 Q8.0 5.2 7.7 7.6 L7.3 12.5 Z" fill="#2aa9e0"/><rect x="2.1" y="12.4" width="2.95" height="3" rx="0.6" fill="#56b356"/><rect x="5.05" y="12.4" width="2.95" height="3" rx="0.6" fill="#f4e23c"/></g>
<g transform="translate(174.00,181.60) scale(1.000,1.000)" stroke="#2e2216" stroke-width="0.60" stroke-linejoin="round"><path d="M8.2 0.2 h3.5 q1.0 0 0.7 1.1 l-3.0 8.4 h-2.6 z" fill="#f7941d"/><path d="M2.9 12.5 L2.5 7.6 Q2.2 5.2 0.8 3.3 Q-0.3 1.6 0.5 0.6 Q1.1 -0.1 2.6 0 Q4.5 0 4.85 1.2 L5.05 12.5 Z" fill="#ec9fc4"/><path d="M5.05 12.5 L5.25 1.2 Q5.6 0 7.5 0 Q9.0 -0.1 9.7 0.6 Q10.5 1.6 9.4 3.3 Q8.0 5.2 7.7 7.6 L7.3 12.5 Z" fill="#2aa9e0"/><rect x="2.1" y="12.4" width="2.95" height="3" rx="0.6" fill="#56b356"/><rect x="5.05" y="12.4" width="2.95" height="3" rx="0.6" fill="#f4e23c"/><path d="M-1.00 4.00 v2.2 M0.20 4.20 v2.4 M1.40 4.00 v2.2" stroke="#1a1a1a" stroke-width="0.55" fill="none"/><ellipse cx="0.20" cy="3.30" rx="2.40" ry="1.50" fill="#ec1c24" stroke-width="0.50"/><path d="M-0.10 10.50 v2.2 M1.10 10.70 v2.4 M2.30 10.50 v2.2" stroke="#1a1a1a" stroke-width="0.55" fill="none"/><ellipse cx="1.10" cy="9.80" rx="2.40" ry="1.50" fill="#ec1c24" stroke-width="0.50"/></g>
<g transform="translate(145.25,246.20) scale(1.000,1.000)" stroke="#2e2216" stroke-width="0.60" stroke-linejoin="round"><path d="M8.2 0.2 h3.5 q1.0 0 0.7 1.1 l-3.0 8.4 h-2.6 z" fill="#f7941d"/><path d="M2.9 12.5 L2.5 7.6 Q2.2 5.2 0.8 3.3 Q-0.3 1.6 0.5 0.6 Q1.1 -0.1 2.6 0 Q4.5 0 4.85 1.2 L5.05 12.5 Z" fill="#ec9fc4"/><path d="M5.05 12.5 L5.25 1.2 Q5.6 0 7.5 0 Q9.0 -0.1 9.7 0.6 Q10.5 1.6 9.4 3.3 Q8.0 5.2 7.7 7.6 L7.3 12.5 Z" fill="#2aa9e0"/><rect x="2.1" y="12.4" width="2.95" height="3" rx="0.6" fill="#56b356"/><rect x="5.05" y="12.4" width="2.95" height="3" rx="0.6" fill="#f4e23c"/><path d="M-1.50 3.60 v2.2 M-0.30 3.80 v2.4 M0.90 3.60 v2.2" stroke="#1a1a1a" stroke-width="0.55" fill="none"/><ellipse cx="-0.30" cy="2.90" rx="2.40" ry="1.50" fill="#fbb712" stroke-width="0.50"/></g>
<g transform="translate(132.90,286.40) scale(1.000,1.000)" stroke="#2e2216" stroke-width="0.60" stroke-linejoin="round"><path d="M8.2 0.2 h3.5 q1.0 0 0.7 1.1 l-3.0 8.4 h-2.6 z" fill="#f7941d"/><path d="M2.9 12.5 L2.5 7.6 Q2.2 5.2 0.8 3.3 Q-0.3 1.6 0.5 0.6 Q1.1 -0.1 2.6 0 Q4.5 0 4.85 1.2 L5.05 12.5 Z" fill="#ec9fc4"/><path d="M5.05 12.5 L5.25 1.2 Q5.6 0 7.5 0 Q9.0 -0.1 9.7 0.6 Q10.5 1.6 9.4 3.3 Q8.0 5.2 7.7 7.6 L7.3 12.5 Z" fill="#2aa9e0"/><rect x="2.1" y="12.4" width="2.95" height="3" rx="0.6" fill="#56b356"/><rect x="5.05" y="12.4" width="2.95" height="3" rx="0.6" fill="#f4e23c"/></g>
<g transform="translate(156.05,279.40) scale(1.000,1.000)" stroke="#2e2216" stroke-width="0.60" stroke-linejoin="round"><path d="M8.2 0.2 h3.5 q1.0 0 0.7 1.1 l-3.0 8.4 h-2.6 z" fill="#f7941d"/><path d="M2.9 12.5 L2.5 7.6 Q2.2 5.2 0.8 3.3 Q-0.3 1.6 0.5 0.6 Q1.1 -0.1 2.6 0 Q4.5 0 4.85 1.2 L5.05 12.5 Z" fill="#ec9fc4"/><path d="M5.05 12.5 L5.25 1.2 Q5.6 0 7.5 0 Q9.0 -0.1 9.7 0.6 Q10.5 1.6 9.4 3.3 Q8.0 5.2 7.7 7.6 L7.3 12.5 Z" fill="#2aa9e0"/><rect x="2.1" y="12.4" width="2.95" height="3" rx="0.6" fill="#56b356"/><rect x="5.05" y="12.4" width="2.95" height="3" rx="0.6" fill="#f4e23c"/><path d="M-0.70 4.00 v2.2 M0.50 4.20 v2.4 M1.70 4.00 v2.2" stroke="#1a1a1a" stroke-width="0.55" fill="none"/><ellipse cx="0.50" cy="3.30" rx="2.40" ry="1.50" fill="#fbb712" stroke-width="0.50"/><path d="M0.60 11.00 v2.2 M1.80 11.20 v2.4 M3.00 11.00 v2.2" stroke="#1a1a1a" stroke-width="0.55" fill="none"/><ellipse cx="1.80" cy="10.30" rx="2.40" ry="1.50" fill="#fbb712" stroke-width="0.50"/></g>
<g transform="translate(511.70,122.20) scale(0.930,0.850)" stroke="#2e2216" stroke-width="0.67" stroke-linejoin="round"><path d="M2.9 12.5 L2.5 7.6 Q2.2 5.2 0.8 3.3 Q-0.3 1.6 0.5 0.6 Q1.1 -0.1 2.6 0 Q4.5 0 4.85 1.2 L5.05 12.5 Z" fill="#ec9fc4"/><path d="M5.05 12.5 L5.25 1.2 Q5.6 0 7.5 0 Q9.0 -0.1 9.7 0.6 Q10.5 1.6 9.4 3.3 Q8.0 5.2 7.7 7.6 L7.3 12.5 Z" fill="#2aa9e0"/><rect x="2.1" y="12.4" width="2.95" height="3" rx="0.6" fill="#56b356"/><rect x="5.05" y="12.4" width="2.95" height="3" rx="0.6" fill="#f4e23c"/></g>
<g transform="translate(519.60,137.90) scale(0.930,0.850)" stroke="#2e2216" stroke-width="0.67" stroke-linejoin="round"><path d="M2.9 12.5 L2.5 7.6 Q2.2 5.2 0.8 3.3 Q-0.3 1.6 0.5 0.6 Q1.1 -0.1 2.6 0 Q4.5 0 4.85 1.2 L5.05 12.5 Z" fill="#ec9fc4"/><path d="M5.05 12.5 L5.25 1.2 Q5.6 0 7.5 0 Q9.0 -0.1 9.7 0.6 Q10.5 1.6 9.4 3.3 Q8.0 5.2 7.7 7.6 L7.3 12.5 Z" fill="#2aa9e0"/><rect x="2.1" y="12.4" width="2.95" height="3" rx="0.6" fill="#56b356"/><rect x="5.05" y="12.4" width="2.95" height="3" rx="0.6" fill="#f4e23c"/><path d="M-1.00 3.90 v2.2 M0.20 4.10 v2.4 M1.40 3.90 v2.2" stroke="#1a1a1a" stroke-width="0.62" fill="none"/><ellipse cx="0.20" cy="3.20" rx="2.20" ry="1.45" fill="#fbb712" stroke-width="0.56"/></g>
<g transform="translate(531.90,137.90) scale(0.930,0.850)" stroke="#2e2216" stroke-width="0.67" stroke-linejoin="round"><path d="M2.9 12.5 L2.5 7.6 Q2.2 5.2 0.8 3.3 Q-0.3 1.6 0.5 0.6 Q1.1 -0.1 2.6 0 Q4.5 0 4.85 1.2 L5.05 12.5 Z" fill="#ec9fc4"/><path d="M5.05 12.5 L5.25 1.2 Q5.6 0 7.5 0 Q9.0 -0.1 9.7 0.6 Q10.5 1.6 9.4 3.3 Q8.0 5.2 7.7 7.6 L7.3 12.5 Z" fill="#2aa9e0"/><rect x="2.1" y="12.4" width="2.95" height="3" rx="0.6" fill="#56b356"/><rect x="5.05" y="12.4" width="2.95" height="3" rx="0.6" fill="#f4e23c"/><path d="M-0.90 4.40 v2.2 M0.30 4.60 v2.4 M1.50 4.40 v2.2" stroke="#1a1a1a" stroke-width="0.62" fill="none"/><ellipse cx="0.30" cy="3.70" rx="2.20" ry="1.45" fill="#a9d9f2" stroke-width="0.56"/><path d="M0.00 10.80 v2.2 M1.20 11.00 v2.4 M2.40 10.80 v2.2" stroke="#1a1a1a" stroke-width="0.62" fill="none"/><ellipse cx="1.20" cy="10.10" rx="2.20" ry="1.45" fill="#a9d9f2" stroke-width="0.56"/></g>
<g transform="translate(517.80,172.10) scale(0.930,0.850)" stroke="#2e2216" stroke-width="0.67" stroke-linejoin="round"><path d="M2.9 12.5 L2.5 7.6 Q2.2 5.2 0.8 3.3 Q-0.3 1.6 0.5 0.6 Q1.1 -0.1 2.6 0 Q4.5 0 4.85 1.2 L5.05 12.5 Z" fill="#ec9fc4"/><path d="M5.05 12.5 L5.25 1.2 Q5.6 0 7.5 0 Q9.0 -0.1 9.7 0.6 Q10.5 1.6 9.4 3.3 Q8.0 5.2 7.7 7.6 L7.3 12.5 Z" fill="#2aa9e0"/><rect x="2.1" y="12.4" width="2.95" height="3" rx="0.6" fill="#56b356"/><rect x="5.05" y="12.4" width="2.95" height="3" rx="0.6" fill="#f4e23c"/><path d="M-0.30 4.00 v2.2 M0.90 4.20 v2.4 M2.10 4.00 v2.2" stroke="#1a1a1a" stroke-width="0.62" fill="none"/><ellipse cx="0.90" cy="3.30" rx="2.20" ry="1.45" fill="#a9d9f2" stroke-width="0.56"/></g>
<g transform="translate(529.70,168.10) scale(0.930,0.850)" stroke="#2e2216" stroke-width="0.67" stroke-linejoin="round"><path d="M2.9 12.5 L2.5 7.6 Q2.2 5.2 0.8 3.3 Q-0.3 1.6 0.5 0.6 Q1.1 -0.1 2.6 0 Q4.5 0 4.85 1.2 L5.05 12.5 Z" fill="#ec9fc4"/><path d="M5.05 12.5 L5.25 1.2 Q5.6 0 7.5 0 Q9.0 -0.1 9.7 0.6 Q10.5 1.6 9.4 3.3 Q8.0 5.2 7.7 7.6 L7.3 12.5 Z" fill="#2aa9e0"/><rect x="2.1" y="12.4" width="2.95" height="3" rx="0.6" fill="#56b356"/><rect x="5.05" y="12.4" width="2.95" height="3" rx="0.6" fill="#f4e23c"/><path d="M-0.55 3.70 v2.2 M0.65 3.90 v2.4 M1.85 3.70 v2.2" stroke="#1a1a1a" stroke-width="0.62" fill="none"/><ellipse cx="0.65" cy="3.00" rx="2.20" ry="1.45" fill="#fbb712" stroke-width="0.56"/><path d="M0.70 10.00 v2.2 M1.90 10.20 v2.4 M3.10 10.00 v2.2" stroke="#1a1a1a" stroke-width="0.62" fill="none"/><ellipse cx="1.90" cy="9.30" rx="2.20" ry="1.45" fill="#a9d9f2" stroke-width="0.56"/></g>
<g transform="translate(576.90,109.00) scale(0.870,0.850)" stroke="#2e2216" stroke-width="0.70" stroke-linejoin="round"><path d="M8.2 0.2 h3.5 q1.0 0 0.7 1.1 l-3.0 8.4 h-2.6 z" fill="#f7941d"/><path d="M2.9 12.5 L2.5 7.6 Q2.2 5.2 0.8 3.3 Q-0.3 1.6 0.5 0.6 Q1.1 -0.1 2.6 0 Q4.5 0 4.85 1.2 L5.05 12.5 Z" fill="#ec9fc4"/><path d="M5.05 12.5 L5.25 1.2 Q5.6 0 7.5 0 Q9.0 -0.1 9.7 0.6 Q10.5 1.6 9.4 3.3 Q8.0 5.2 7.7 7.6 L7.3 12.5 Z" fill="#2aa9e0"/><rect x="2.1" y="12.4" width="2.95" height="3" rx="0.6" fill="#56b356"/><rect x="5.05" y="12.4" width="2.95" height="3" rx="0.6" fill="#f4e23c"/></g>
<g transform="translate(584.80,126.50) scale(0.870,0.850)" stroke="#2e2216" stroke-width="0.70" stroke-linejoin="round"><path d="M8.2 0.2 h3.5 q1.0 0 0.7 1.1 l-3.0 8.4 h-2.6 z" fill="#f7941d"/><path d="M2.9 12.5 L2.5 7.6 Q2.2 5.2 0.8 3.3 Q-0.3 1.6 0.5 0.6 Q1.1 -0.1 2.6 0 Q4.5 0 4.85 1.2 L5.05 12.5 Z" fill="#ec9fc4"/><path d="M5.05 12.5 L5.25 1.2 Q5.6 0 7.5 0 Q9.0 -0.1 9.7 0.6 Q10.5 1.6 9.4 3.3 Q8.0 5.2 7.7 7.6 L7.3 12.5 Z" fill="#2aa9e0"/><rect x="2.1" y="12.4" width="2.95" height="3" rx="0.6" fill="#56b356"/><rect x="5.05" y="12.4" width="2.95" height="3" rx="0.6" fill="#f4e23c"/><path d="M-1.10 4.10 v2.2 M0.10 4.30 v2.4 M1.30 4.10 v2.2" stroke="#1a1a1a" stroke-width="0.64" fill="none"/><ellipse cx="0.10" cy="3.40" rx="2.30" ry="1.45" fill="#a9d9f2" stroke-width="0.58"/></g>
<g transform="translate(601.30,127.70) scale(0.870,0.850)" stroke="#2e2216" stroke-width="0.70" stroke-linejoin="round"><path d="M8.2 0.2 h3.5 q1.0 0 0.7 1.1 l-3.0 8.4 h-2.6 z" fill="#f7941d"/><path d="M2.9 12.5 L2.5 7.6 Q2.2 5.2 0.8 3.3 Q-0.3 1.6 0.5 0.6 Q1.1 -0.1 2.6 0 Q4.5 0 4.85 1.2 L5.05 12.5 Z" fill="#ec9fc4"/><path d="M5.05 12.5 L5.25 1.2 Q5.6 0 7.5 0 Q9.0 -0.1 9.7 0.6 Q10.5 1.6 9.4 3.3 Q8.0 5.2 7.7 7.6 L7.3 12.5 Z" fill="#2aa9e0"/><rect x="2.1" y="12.4" width="2.95" height="3" rx="0.6" fill="#56b356"/><rect x="5.05" y="12.4" width="2.95" height="3" rx="0.6" fill="#f4e23c"/><path d="M-0.90 3.70 v2.2 M0.30 3.90 v2.4 M1.50 3.70 v2.2" stroke="#1a1a1a" stroke-width="0.64" fill="none"/><ellipse cx="0.30" cy="3.00" rx="2.30" ry="1.45" fill="#fbb712" stroke-width="0.58"/></g>
<g transform="translate(616.20,127.70) scale(0.870,0.850)" stroke="#2e2216" stroke-width="0.70" stroke-linejoin="round"><path d="M8.2 0.2 h3.5 q1.0 0 0.7 1.1 l-3.0 8.4 h-2.6 z" fill="#f7941d"/><path d="M2.9 12.5 L2.5 7.6 Q2.2 5.2 0.8 3.3 Q-0.3 1.6 0.5 0.6 Q1.1 -0.1 2.6 0 Q4.5 0 4.85 1.2 L5.05 12.5 Z" fill="#ec9fc4"/><path d="M5.05 12.5 L5.25 1.2 Q5.6 0 7.5 0 Q9.0 -0.1 9.7 0.6 Q10.5 1.6 9.4 3.3 Q8.0 5.2 7.7 7.6 L7.3 12.5 Z" fill="#2aa9e0"/><rect x="2.1" y="12.4" width="2.95" height="3" rx="0.6" fill="#56b356"/><rect x="5.05" y="12.4" width="2.95" height="3" rx="0.6" fill="#f4e23c"/><path d="M-1.20 4.00 v2.2 M0.00 4.20 v2.4 M1.20 4.00 v2.2" stroke="#1a1a1a" stroke-width="0.64" fill="none"/><ellipse cx="0.00" cy="3.30" rx="2.30" ry="1.45" fill="#a9d9f2" stroke-width="0.58"/><path d="M-0.30 10.20 v2.2 M0.90 10.40 v2.4 M2.10 10.20 v2.2" stroke="#1a1a1a" stroke-width="0.64" fill="none"/><ellipse cx="0.90" cy="9.50" rx="2.30" ry="1.45" fill="#a9d9f2" stroke-width="0.58"/></g>
<g transform="translate(597.80,173.00) scale(0.870,0.850)" stroke="#2e2216" stroke-width="0.70" stroke-linejoin="round"><path d="M8.2 0.2 h3.5 q1.0 0 0.7 1.1 l-3.0 8.4 h-2.6 z" fill="#f7941d"/><path d="M2.9 12.5 L2.5 7.6 Q2.2 5.2 0.8 3.3 Q-0.3 1.6 0.5 0.6 Q1.1 -0.1 2.6 0 Q4.5 0 4.85 1.2 L5.05 12.5 Z" fill="#ec9fc4"/><path d="M5.05 12.5 L5.25 1.2 Q5.6 0 7.5 0 Q9.0 -0.1 9.7 0.6 Q10.5 1.6 9.4 3.3 Q8.0 5.2 7.7 7.6 L7.3 12.5 Z" fill="#2aa9e0"/><rect x="2.1" y="12.4" width="2.95" height="3" rx="0.6" fill="#56b356"/><rect x="5.05" y="12.4" width="2.95" height="3" rx="0.6" fill="#f4e23c"/><path d="M-0.75 3.90 v2.2 M0.45 4.10 v2.4 M1.65 3.90 v2.2" stroke="#1a1a1a" stroke-width="0.64" fill="none"/><ellipse cx="0.45" cy="3.20" rx="2.30" ry="1.45" fill="#fbb712" stroke-width="0.58"/><path d="M0.30 10.40 v2.2 M1.50 10.60 v2.4 M2.70 10.40 v2.2" stroke="#1a1a1a" stroke-width="0.64" fill="none"/><ellipse cx="1.50" cy="9.70" rx="2.30" ry="1.45" fill="#a9d9f2" stroke-width="0.58"/></g>
<g transform="translate(609.10,181.00) scale(0.870,0.850)" stroke="#2e2216" stroke-width="0.70" stroke-linejoin="round"><path d="M8.2 0.2 h3.5 q1.0 0 0.7 1.1 l-3.0 8.4 h-2.6 z" fill="#f7941d"/><path d="M2.9 12.5 L2.5 7.6 Q2.2 5.2 0.8 3.3 Q-0.3 1.6 0.5 0.6 Q1.1 -0.1 2.6 0 Q4.5 0 4.85 1.2 L5.05 12.5 Z" fill="#ec9fc4"/><path d="M5.05 12.5 L5.25 1.2 Q5.6 0 7.5 0 Q9.0 -0.1 9.7 0.6 Q10.5 1.6 9.4 3.3 Q8.0 5.2 7.7 7.6 L7.3 12.5 Z" fill="#2aa9e0"/><rect x="2.1" y="12.4" width="2.95" height="3" rx="0.6" fill="#56b356"/><rect x="5.05" y="12.4" width="2.95" height="3" rx="0.6" fill="#f4e23c"/><path d="M-0.85 4.25 v2.2 M0.35 4.45 v2.4 M1.55 4.25 v2.2" stroke="#1a1a1a" stroke-width="0.64" fill="none"/><ellipse cx="0.35" cy="3.55" rx="2.30" ry="1.45" fill="#fbb712" stroke-width="0.58"/><path d="M0.30 10.90 v2.2 M1.50 11.10 v2.4 M2.70 10.90 v2.2" stroke="#1a1a1a" stroke-width="0.64" fill="none"/><ellipse cx="1.50" cy="10.20" rx="2.30" ry="1.45" fill="#fbb712" stroke-width="0.58"/></g>
<g transform="translate(494.00,235.30) scale(0.930,0.850)" stroke="#2e2216" stroke-width="0.67" stroke-linejoin="round"><path d="M2.9 12.5 L2.5 7.6 Q2.2 5.2 0.8 3.3 Q-0.3 1.6 0.5 0.6 Q1.1 -0.1 2.6 0 Q4.5 0 4.85 1.2 L5.05 12.5 Z" fill="#ec9fc4"/><path d="M5.05 12.5 L5.25 1.2 Q5.6 0 7.5 0 Q9.0 -0.1 9.7 0.6 Q10.5 1.6 9.4 3.3 Q8.0 5.2 7.7 7.6 L7.3 12.5 Z" fill="#2aa9e0"/><rect x="2.1" y="12.4" width="2.95" height="3" rx="0.6" fill="#56b356"/><rect x="5.05" y="12.4" width="2.95" height="3" rx="0.6" fill="#f4e23c"/></g>
<g transform="translate(501.80,300.10) scale(0.930,0.850)" stroke="#2e2216" stroke-width="0.67" stroke-linejoin="round"><path d="M2.9 12.5 L2.5 7.6 Q2.2 5.2 0.8 3.3 Q-0.3 1.6 0.5 0.6 Q1.1 -0.1 2.6 0 Q4.5 0 4.85 1.2 L5.05 12.5 Z" fill="#ec9fc4"/><path d="M5.05 12.5 L5.25 1.2 Q5.6 0 7.5 0 Q9.0 -0.1 9.7 0.6 Q10.5 1.6 9.4 3.3 Q8.0 5.2 7.7 7.6 L7.3 12.5 Z" fill="#2aa9e0"/><rect x="2.1" y="12.4" width="2.95" height="3" rx="0.6" fill="#56b356"/><rect x="5.05" y="12.4" width="2.95" height="3" rx="0.6" fill="#f4e23c"/><path d="M-0.45 4.15 v2.2 M0.75 4.35 v2.4 M1.95 4.15 v2.2" stroke="#1a1a1a" stroke-width="0.62" fill="none"/><ellipse cx="0.75" cy="3.45" rx="2.20" ry="1.45" fill="#a9d9f2" stroke-width="0.56"/></g>
<g transform="translate(561.80,277.40) scale(0.870,0.850)" stroke="#2e2216" stroke-width="0.70" stroke-linejoin="round"><path d="M8.2 0.2 h3.5 q1.0 0 0.7 1.1 l-3.0 8.4 h-2.6 z" fill="#f7941d"/><path d="M2.9 12.5 L2.5 7.6 Q2.2 5.2 0.8 3.3 Q-0.3 1.6 0.5 0.6 Q1.1 -0.1 2.6 0 Q4.5 0 4.85 1.2 L5.05 12.5 Z" fill="#ec9fc4"/><path d="M5.05 12.5 L5.25 1.2 Q5.6 0 7.5 0 Q9.0 -0.1 9.7 0.6 Q10.5 1.6 9.4 3.3 Q8.0 5.2 7.7 7.6 L7.3 12.5 Z" fill="#2aa9e0"/><rect x="2.1" y="12.4" width="2.95" height="3" rx="0.6" fill="#56b356"/><rect x="5.05" y="12.4" width="2.95" height="3" rx="0.6" fill="#f4e23c"/></g>
<g transform="translate(570.50,302.20) scale(0.870,0.850)" stroke="#2e2216" stroke-width="0.70" stroke-linejoin="round"><path d="M8.2 0.2 h3.5 q1.0 0 0.7 1.1 l-3.0 8.4 h-2.6 z" fill="#f7941d"/><path d="M2.9 12.5 L2.5 7.6 Q2.2 5.2 0.8 3.3 Q-0.3 1.6 0.5 0.6 Q1.1 -0.1 2.6 0 Q4.5 0 4.85 1.2 L5.05 12.5 Z" fill="#ec9fc4"/><path d="M5.05 12.5 L5.25 1.2 Q5.6 0 7.5 0 Q9.0 -0.1 9.7 0.6 Q10.5 1.6 9.4 3.3 Q8.0 5.2 7.7 7.6 L7.3 12.5 Z" fill="#2aa9e0"/><rect x="2.1" y="12.4" width="2.95" height="3" rx="0.6" fill="#56b356"/><rect x="5.05" y="12.4" width="2.95" height="3" rx="0.6" fill="#f4e23c"/><path d="M-1.30 4.90 v2.2 M-0.10 5.10 v2.4 M1.10 4.90 v2.2" stroke="#1a1a1a" stroke-width="0.64" fill="none"/><ellipse cx="-0.10" cy="4.20" rx="2.30" ry="1.45" fill="#a9d9f2" stroke-width="0.58"/></g>
<text x="-0.5" y="10.3" font-size="14.5" text-anchor="start" font-weight="bold" font-style="normal" >a</text>
<text x="386.3" y="11.5" font-size="14.5" text-anchor="start" font-weight="bold" font-style="normal" >b</text>
<text x="46.0" y="32.2" font-size="10.4" text-anchor="start" font-weight="normal" font-style="normal" >Re-LPS</text>
<text x="45.0" y="55.8" font-size="10.4" text-anchor="start" font-weight="normal" font-style="normal" >Lipid A</text>
<text x="45.0" y="80.4" font-size="10.4" text-anchor="start" font-weight="normal" font-style="normal" >MPLA</text>
<text x="587.7" y="21.2" font-size="10.4" text-anchor="start" font-weight="normal" font-style="normal" >Re-LPS</text>
<text x="587.7" y="44.2" font-size="10.4" text-anchor="start" font-weight="normal" font-style="normal" >Cardiolipin</text>
<text x="118.0" y="28.7" font-size="10.7" text-anchor="middle" font-weight="bold" font-style="normal" stroke="#2a2a2a" stroke-width="0.25" letter-spacing="0.05">+ MPLA</text>
<text x="117.6" y="41.7" font-size="10.7" text-anchor="middle" font-weight="bold" font-style="normal" stroke="#2a2a2a" stroke-width="0.25" letter-spacing="0.05" word-spacing="0.7">(1 µM)</text>
<text x="68.0" y="140.5" font-size="10.7" text-anchor="middle" font-weight="bold" font-style="normal" stroke="#2a2a2a" stroke-width="0.25" letter-spacing="0.05">+ Lipid A</text>
<text x="67.9" y="154.4" font-size="10.7" text-anchor="middle" font-weight="bold" font-style="normal" stroke="#2a2a2a" stroke-width="0.25" letter-spacing="0.05" word-spacing="0.7">(1 µM)</text>
<text x="53.1" y="254.3" font-size="10.7" text-anchor="middle" font-weight="bold" font-style="normal" stroke="#2a2a2a" stroke-width="0.25" letter-spacing="0.05">+ Re-LPS</text>
<text x="54.4" y="267.0" font-size="10.7" text-anchor="middle" font-weight="bold" font-style="normal" stroke="#2a2a2a" stroke-width="0.25" letter-spacing="0.05" word-spacing="0.7">(1 µM)</text>
<text x="594.3" y="89.5" font-size="10.7" text-anchor="start" font-weight="bold" font-style="normal" stroke="#2a2a2a" stroke-width="0.25" letter-spacing="0.05" word-spacing="0.7">+ Re-LPS (1 µM)</text>
<text x="594.3" y="102.1" font-size="10.7" text-anchor="start" font-weight="bold" font-style="normal" stroke="#2a2a2a" stroke-width="0.25" letter-spacing="0.05">+ CDL (2.5 µM)</text>
<text x="630.4" y="245.1" font-size="10.7" text-anchor="middle" font-weight="bold" font-style="normal" stroke="#2a2a2a" stroke-width="0.25" letter-spacing="0.05">+ CDL</text>
<text x="630.2" y="258.3" font-size="10.7" text-anchor="middle" font-weight="bold" font-style="normal" stroke="#2a2a2a" stroke-width="0.25" letter-spacing="0.05" word-spacing="0.7">(2.5 µM)</text>
<text x="206.1" y="35.4" font-size="10" text-anchor="start" font-weight="normal" font-style="normal" >18-</text>
<text x="179.0" y="145.4" font-size="10" text-anchor="start" font-weight="normal" font-style="normal" >18-</text>
<text x="158.6" y="253.7" font-size="10" text-anchor="start" font-weight="normal" font-style="normal" >18-</text>
<text x="524.5" y="128.6" font-size="10" text-anchor="start" font-weight="normal" font-style="normal" >17-</text>
<text x="590.9" y="118.6" font-size="10" text-anchor="start" font-weight="normal" font-style="normal" >17-</text>
<text x="505.0" y="245.4" font-size="10" text-anchor="start" font-weight="normal" font-style="normal" >17-</text>
<text x="574.8" y="287.3" font-size="10" text-anchor="start" font-weight="normal" font-style="normal" >17-</text>
<text x="20.6" y="269.0" font-size="10.0" text-anchor="end" font-weight="normal" font-style="normal" >100</text>
<text x="20.5" y="311.3" font-size="10.2" text-anchor="end" font-weight="normal" font-style="normal" >%</text>
<text x="20.0" y="351.2" font-size="10.2" text-anchor="end" font-weight="normal" font-style="normal" >0</text>
<text x="72.8" y="361.4" font-size="10.3" text-anchor="middle" font-weight="normal" font-style="normal" letter-spacing="0.2">8000</text>
<text x="159.8" y="361.4" font-size="10.3" text-anchor="middle" font-weight="normal" font-style="normal" letter-spacing="0.2">9000</text>
<text x="248.6" y="361.4" font-size="10.3" text-anchor="middle" font-weight="normal" font-style="normal" letter-spacing="0.2">10000</text>
<text x="158.5" y="371.6" font-size="10.2" text-anchor="middle" font-weight="normal" font-style="italic" >m/z</text>
<text x="403.2" y="256.4" font-size="10.0" text-anchor="end" font-weight="normal" font-style="normal" >100</text>
<text x="406.6" y="304.4" font-size="10.0" text-anchor="end" font-weight="normal" font-style="normal" >%</text>
<text x="406.4" y="352.9" font-size="10.0" text-anchor="end" font-weight="normal" font-style="normal" >0</text>
<text x="454.5" y="362.4" font-size="10.2" text-anchor="middle" font-weight="normal" font-style="normal" letter-spacing="0.2">8000</text>
<text x="540.2" y="362.4" font-size="10.2" text-anchor="middle" font-weight="normal" font-style="normal" letter-spacing="0.2">9000</text>
<text x="626.3" y="362.4" font-size="10.2" text-anchor="middle" font-weight="normal" font-style="normal" letter-spacing="0.2">10000</text>
<text x="539.5" y="371.4" font-size="10.2" text-anchor="middle" font-weight="normal" font-style="italic" >m/z</text>
<text x="310.7" y="258.2" font-size="9.6" text-anchor="end" font-weight="normal" font-style="normal" >0.8</text>
<text x="310.7" y="281.6" font-size="9.6" text-anchor="end" font-weight="normal" font-style="normal" >0.6</text>
<text x="310.7" y="304.9" font-size="9.6" text-anchor="end" font-weight="normal" font-style="normal" >0.4</text>
<text x="310.7" y="328.2" font-size="9.6" text-anchor="end" font-weight="normal" font-style="normal" >0.2</text>
<text x="310.7" y="351.4" font-size="9.6" text-anchor="end" font-weight="normal" font-style="normal" >0.0</text>
<text transform="translate(295.3,299.0) rotate(-90)" font-size="10" text-anchor="middle">Mole fraction</text>
<text x="446.4" y="8.2" font-size="9.4" text-anchor="end" font-weight="normal" font-style="normal" letter-spacing="-0.2">0.8</text>
<text x="446.4" y="29.3" font-size="9.4" text-anchor="end" font-weight="normal" font-style="normal" letter-spacing="-0.2">0.6</text>
<text x="446.4" y="50.4" font-size="9.4" text-anchor="end" font-weight="normal" font-style="normal" letter-spacing="-0.2">0.4</text>
<text x="446.4" y="71.5" font-size="9.4" text-anchor="end" font-weight="normal" font-style="normal" letter-spacing="-0.2">0.2</text>
<text x="446.4" y="92.6" font-size="9.4" text-anchor="end" font-weight="normal" font-style="normal" letter-spacing="-0.2">0.0</text>
<text x="463.6" y="100.9" font-size="9.4" text-anchor="middle" font-weight="normal" font-style="normal" >0</text>
<text x="484.9" y="100.9" font-size="9.4" text-anchor="middle" font-weight="normal" font-style="normal" letter-spacing="-0.25">2.5</text>
<text x="475.3" y="112.6" font-size="9.6" text-anchor="middle" font-weight="normal" font-style="normal" >[CDL] (µM)</text>
<text x="487.0" y="31.0" font-size="8" text-anchor="middle" font-weight="normal" font-style="normal" >***</text>
<text transform="translate(413.8,45.6) rotate(-90)" font-size="10" text-anchor="middle">Molar fraction</text>
<text transform="translate(424.2,46.3) rotate(-90)" font-size="10" text-anchor="middle">(LptB<tspan font-size="6.5" dy="2">2</tspan><tspan dy="-2">FGC:Re-LPS)</tspan></text>
</svg>
</body></html>
